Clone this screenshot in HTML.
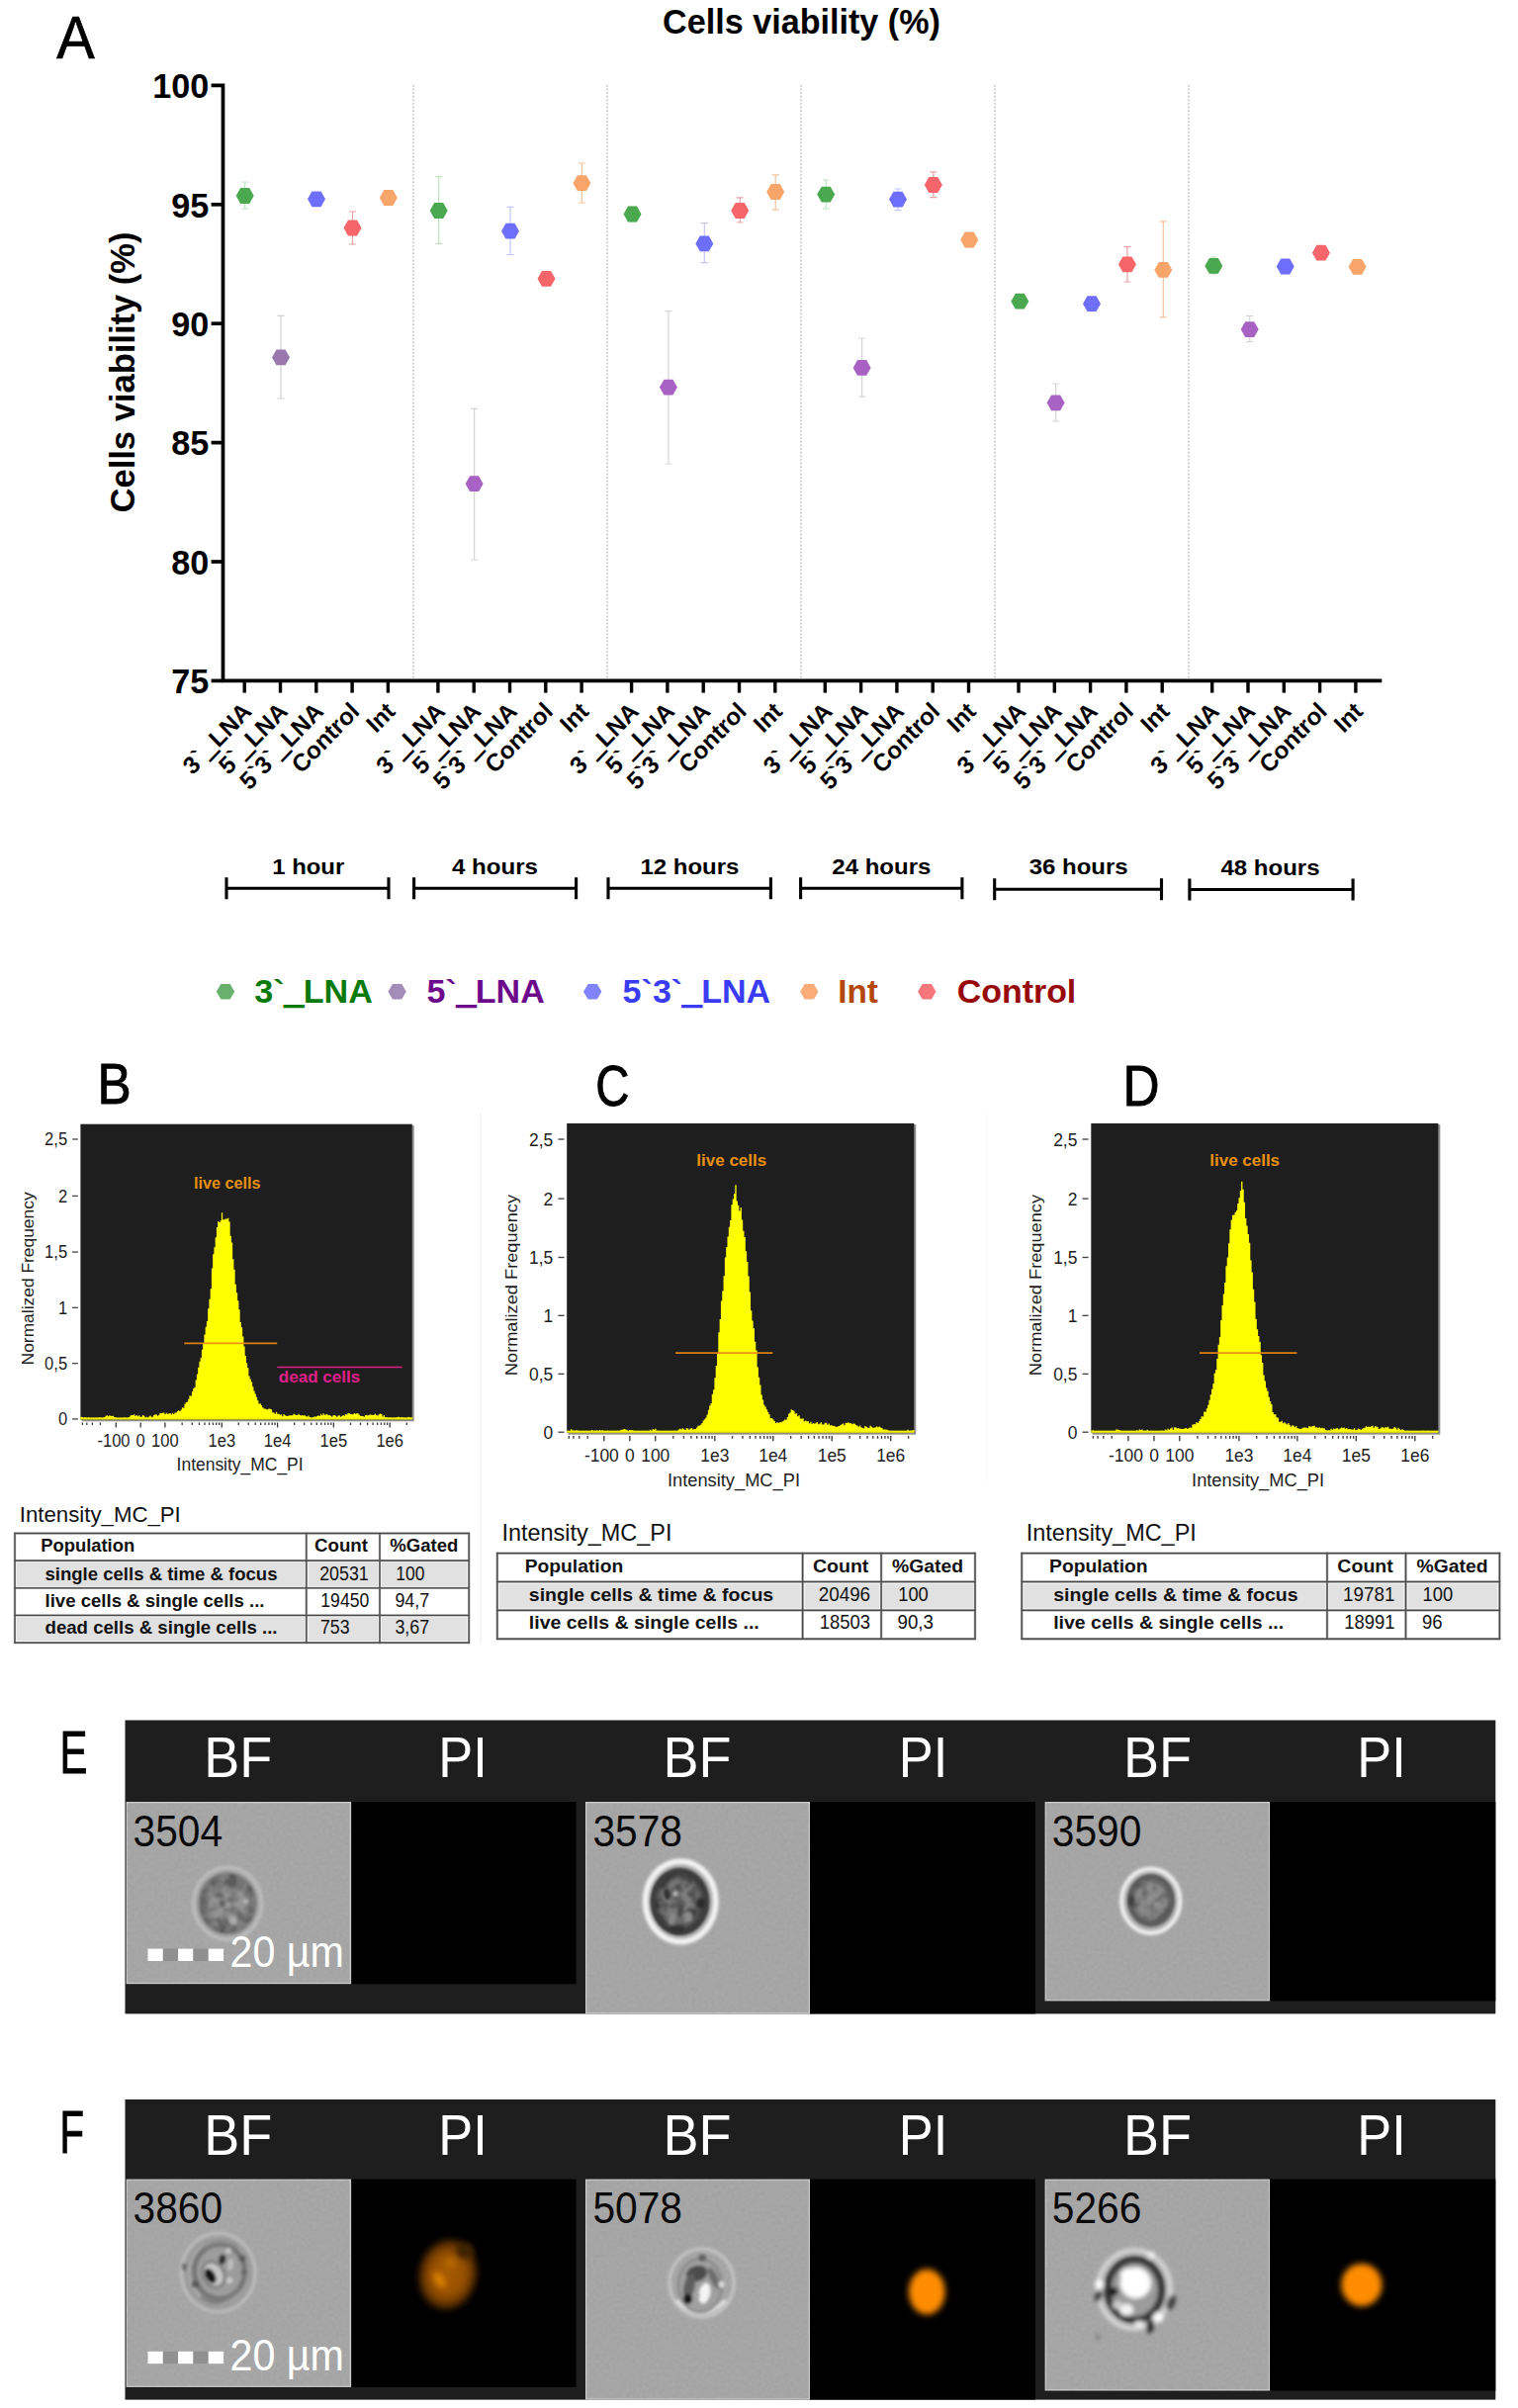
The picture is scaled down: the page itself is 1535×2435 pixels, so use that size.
<!DOCTYPE html>
<html lang="en">
<head>
<meta charset="utf-8">
<title>Cells viability (%)</title>
<style>
html,body{margin:0;padding:0;background:#fff;}
body{width:1535px;height:2435px;overflow:hidden;}
svg{display:block;}
text{font-family:"Liberation Sans",Arial,Helvetica,sans-serif;}
.b{font-weight:bold;}
.r{font-weight:normal;}
</style>
</head>
<body>
<svg width="1535" height="2435" viewBox="0 0 1535 2435">
<defs>
<filter id="grain" color-interpolation-filters="sRGB" x="0" y="0" width="100%" height="100%"><feTurbulence type="fractalNoise" baseFrequency="0.3" numOctaves="2" seed="4" result="n"/><feColorMatrix in="n" type="matrix" values="0 0 0 0 0.5  0 0 0 0 0.5  0 0 0 0 0.5  0.14 0.14 0.14 0 -0.15" result="g"/><feComposite in="g" in2="SourceGraphic" operator="over"/></filter>
<filter id="mot" color-interpolation-filters="sRGB" x="0" y="0" width="100%" height="100%"><feTurbulence type="fractalNoise" baseFrequency="0.1" numOctaves="2" seed="11" result="n"/><feColorMatrix in="n" type="matrix" values="0 0 0 0 0.12  0 0 0 0 0.12  0 0 0 0 0.12  1.9 1.9 0 0 -1.55" result="g"/><feComposite in="g" in2="SourceGraphic" operator="in"/><feGaussianBlur stdDeviation="0.9"/></filter>
<filter id="motl" color-interpolation-filters="sRGB" x="0" y="0" width="100%" height="100%"><feTurbulence type="fractalNoise" baseFrequency="0.12" numOctaves="2" seed="29" result="n"/><feColorMatrix in="n" type="matrix" values="0 0 0 0 0.85  0 0 0 0 0.85  0 0 0 0 0.85  0 1.9 1.9 0 -1.6" result="g"/><feComposite in="g" in2="SourceGraphic" operator="in"/><feGaussianBlur stdDeviation="0.9"/></filter>
<radialGradient id="ge1"><stop offset="0" stop-color="#9b9b9b"/><stop offset="0.55" stop-color="#929292"/><stop offset="0.86" stop-color="#7a7a7a"/><stop offset="1" stop-color="#818181"/></radialGradient>
<radialGradient id="ge2"><stop offset="0" stop-color="#848484"/><stop offset="0.6" stop-color="#787878"/><stop offset="0.84" stop-color="#3e3e3e"/><stop offset="1" stop-color="#363636"/></radialGradient>
<radialGradient id="ge3"><stop offset="0" stop-color="#909090"/><stop offset="0.62" stop-color="#888888"/><stop offset="0.88" stop-color="#585858"/><stop offset="1" stop-color="#555555"/></radialGradient>
<radialGradient id="pi1"><stop offset="0" stop-color="#a85c00"/><stop offset="0.6" stop-color="#964f00"/><stop offset="0.85" stop-color="#5c3000"/><stop offset="1" stop-color="#1a0c00"/></radialGradient>
<filter id="b14" x="-40%" y="-40%" width="180%" height="180%"><feGaussianBlur stdDeviation="1.4"/></filter>
<filter id="b15" x="-40%" y="-40%" width="180%" height="180%"><feGaussianBlur stdDeviation="1.5"/></filter>
<filter id="b17" x="-40%" y="-40%" width="180%" height="180%"><feGaussianBlur stdDeviation="1.7"/></filter>
<filter id="b19" x="-40%" y="-40%" width="180%" height="180%"><feGaussianBlur stdDeviation="1.9"/></filter>
<filter id="b30" x="-40%" y="-40%" width="180%" height="180%"><feGaussianBlur stdDeviation="3"/></filter>
<filter id="b32" x="-40%" y="-40%" width="180%" height="180%"><feGaussianBlur stdDeviation="3.2"/></filter>
<filter id="b36" x="-40%" y="-40%" width="180%" height="180%"><feGaussianBlur stdDeviation="3.6"/></filter>
</defs>
<rect x="0" y="0" width="1535" height="2435" fill="#ffffff"/>
<g id="panelA">
<text transform="translate(57.2,58.6) scale(0.93,1)" font-size="62" class="r" stroke="#000" stroke-width="0.7">A</text>
<text transform="translate(810.5,33.6) scale(1,1.04)" font-size="34.2" class="b" text-anchor="middle" textLength="281" lengthAdjust="spacingAndGlyphs">Cells viability (%)</text>
<text transform="translate(135.8,376.5) scale(1.04,1) rotate(-90)" font-size="34.2" class="b" text-anchor="middle" textLength="284" lengthAdjust="spacingAndGlyphs">Cells viability (%)</text>
<line x1="418" y1="86" x2="418" y2="687" stroke="#b4b4b4" stroke-width="1.2" stroke-dasharray="1.8 1.8"/>
<line x1="614" y1="86" x2="614" y2="687" stroke="#b4b4b4" stroke-width="1.2" stroke-dasharray="1.8 1.8"/>
<line x1="810" y1="86" x2="810" y2="687" stroke="#b4b4b4" stroke-width="1.2" stroke-dasharray="1.8 1.8"/>
<line x1="1006" y1="86" x2="1006" y2="687" stroke="#b4b4b4" stroke-width="1.2" stroke-dasharray="1.8 1.8"/>
<line x1="1202" y1="86" x2="1202" y2="687" stroke="#b4b4b4" stroke-width="1.2" stroke-dasharray="1.8 1.8"/>
<path d="M213.6 86.4 H225.5 V688.4 H1397.3" fill="none" stroke="#000" stroke-width="3.7"/>
<path d="M213.6 688.4 H225.5" fill="none" stroke="#000" stroke-width="3.7"/>
<line x1="213.6" x2="225.5" y1="206.8" y2="206.8" stroke="#000" stroke-width="3.7"/>
<line x1="213.6" x2="225.5" y1="327.2" y2="327.2" stroke="#000" stroke-width="3.7"/>
<line x1="213.6" x2="225.5" y1="447.6" y2="447.6" stroke="#000" stroke-width="3.7"/>
<line x1="213.6" x2="225.5" y1="568" y2="568" stroke="#000" stroke-width="3.7"/>
<text transform="translate(211.3,99.1) scale(1.01,1.04)" font-size="33.9" class="b" text-anchor="end">100</text>
<text transform="translate(211.3,219.5) scale(1.01,1.04)" font-size="33.9" class="b" text-anchor="end">95</text>
<text transform="translate(211.3,339.9) scale(1.01,1.04)" font-size="33.9" class="b" text-anchor="end">90</text>
<text transform="translate(211.3,460.3) scale(1.01,1.04)" font-size="33.9" class="b" text-anchor="end">85</text>
<text transform="translate(211.3,580.7) scale(1.01,1.04)" font-size="33.9" class="b" text-anchor="end">80</text>
<text transform="translate(211.3,701.1) scale(1.01,1.04)" font-size="33.9" class="b" text-anchor="end">75</text>
<line x1="247.2" x2="247.2" y1="688" y2="700.6" stroke="#000" stroke-width="3.4"/>
<text transform="translate(255.8,720.8) scale(1,1.04) rotate(-45)" font-size="23.9" class="b" text-anchor="end">3`<tspan dx="1.6" stroke="#000" stroke-width="1.5">_</tspan><tspan dx="1.2">LNA</tspan></text>
<line x1="283.5" x2="283.5" y1="688" y2="700.6" stroke="#000" stroke-width="3.4"/>
<text transform="translate(292.1,720.8) scale(1,1.04) rotate(-45)" font-size="23.9" class="b" text-anchor="end">5`<tspan dx="1.6" stroke="#000" stroke-width="1.5">_</tspan><tspan dx="1.2">LNA</tspan></text>
<line x1="319.8" x2="319.8" y1="688" y2="700.6" stroke="#000" stroke-width="3.4"/>
<text transform="translate(328.4,720.8) scale(1,1.04) rotate(-45)" font-size="23.9" class="b" text-anchor="end">5`3`<tspan dx="1.6" stroke="#000" stroke-width="1.5">_</tspan><tspan dx="1.2">LNA</tspan></text>
<line x1="356.1" x2="356.1" y1="688" y2="700.6" stroke="#000" stroke-width="3.4"/>
<text transform="translate(364.7,720.8) scale(1,1.04) rotate(-45)" font-size="23.9" class="b" text-anchor="end">Control</text>
<line x1="392.4" x2="392.4" y1="688" y2="700.6" stroke="#000" stroke-width="3.4"/>
<text transform="translate(401,720.8) scale(1,1.04) rotate(-45)" font-size="23.9" class="b" text-anchor="end">Int</text>
<line x1="442.9" x2="442.9" y1="688" y2="700.6" stroke="#000" stroke-width="3.4"/>
<text transform="translate(451.5,720.8) scale(1,1.04) rotate(-45)" font-size="23.9" class="b" text-anchor="end">3`<tspan dx="1.6" stroke="#000" stroke-width="1.5">_</tspan><tspan dx="1.2">LNA</tspan></text>
<line x1="479.2" x2="479.2" y1="688" y2="700.6" stroke="#000" stroke-width="3.4"/>
<text transform="translate(487.8,720.8) scale(1,1.04) rotate(-45)" font-size="23.9" class="b" text-anchor="end">5`<tspan dx="1.6" stroke="#000" stroke-width="1.5">_</tspan><tspan dx="1.2">LNA</tspan></text>
<line x1="515.5" x2="515.5" y1="688" y2="700.6" stroke="#000" stroke-width="3.4"/>
<text transform="translate(524.1,720.8) scale(1,1.04) rotate(-45)" font-size="23.9" class="b" text-anchor="end">5`3`<tspan dx="1.6" stroke="#000" stroke-width="1.5">_</tspan><tspan dx="1.2">LNA</tspan></text>
<line x1="551.8" x2="551.8" y1="688" y2="700.6" stroke="#000" stroke-width="3.4"/>
<text transform="translate(560.4,720.8) scale(1,1.04) rotate(-45)" font-size="23.9" class="b" text-anchor="end">Control</text>
<line x1="588.1" x2="588.1" y1="688" y2="700.6" stroke="#000" stroke-width="3.4"/>
<text transform="translate(596.7,720.8) scale(1,1.04) rotate(-45)" font-size="23.9" class="b" text-anchor="end">Int</text>
<line x1="638.6" x2="638.6" y1="688" y2="700.6" stroke="#000" stroke-width="3.4"/>
<text transform="translate(647.2,720.8) scale(1,1.04) rotate(-45)" font-size="23.9" class="b" text-anchor="end">3`<tspan dx="1.6" stroke="#000" stroke-width="1.5">_</tspan><tspan dx="1.2">LNA</tspan></text>
<line x1="674.9" x2="674.9" y1="688" y2="700.6" stroke="#000" stroke-width="3.4"/>
<text transform="translate(683.5,720.8) scale(1,1.04) rotate(-45)" font-size="23.9" class="b" text-anchor="end">5`<tspan dx="1.6" stroke="#000" stroke-width="1.5">_</tspan><tspan dx="1.2">LNA</tspan></text>
<line x1="711.2" x2="711.2" y1="688" y2="700.6" stroke="#000" stroke-width="3.4"/>
<text transform="translate(719.8,720.8) scale(1,1.04) rotate(-45)" font-size="23.9" class="b" text-anchor="end">5`3`<tspan dx="1.6" stroke="#000" stroke-width="1.5">_</tspan><tspan dx="1.2">LNA</tspan></text>
<line x1="747.5" x2="747.5" y1="688" y2="700.6" stroke="#000" stroke-width="3.4"/>
<text transform="translate(756.1,720.8) scale(1,1.04) rotate(-45)" font-size="23.9" class="b" text-anchor="end">Control</text>
<line x1="783.8" x2="783.8" y1="688" y2="700.6" stroke="#000" stroke-width="3.4"/>
<text transform="translate(792.4,720.8) scale(1,1.04) rotate(-45)" font-size="23.9" class="b" text-anchor="end">Int</text>
<line x1="834.3" x2="834.3" y1="688" y2="700.6" stroke="#000" stroke-width="3.4"/>
<text transform="translate(842.9,720.8) scale(1,1.04) rotate(-45)" font-size="23.9" class="b" text-anchor="end">3`<tspan dx="1.6" stroke="#000" stroke-width="1.5">_</tspan><tspan dx="1.2">LNA</tspan></text>
<line x1="870.6" x2="870.6" y1="688" y2="700.6" stroke="#000" stroke-width="3.4"/>
<text transform="translate(879.2,720.8) scale(1,1.04) rotate(-45)" font-size="23.9" class="b" text-anchor="end">5`<tspan dx="1.6" stroke="#000" stroke-width="1.5">_</tspan><tspan dx="1.2">LNA</tspan></text>
<line x1="906.9" x2="906.9" y1="688" y2="700.6" stroke="#000" stroke-width="3.4"/>
<text transform="translate(915.5,720.8) scale(1,1.04) rotate(-45)" font-size="23.9" class="b" text-anchor="end">5`3`<tspan dx="1.6" stroke="#000" stroke-width="1.5">_</tspan><tspan dx="1.2">LNA</tspan></text>
<line x1="943.2" x2="943.2" y1="688" y2="700.6" stroke="#000" stroke-width="3.4"/>
<text transform="translate(951.8,720.8) scale(1,1.04) rotate(-45)" font-size="23.9" class="b" text-anchor="end">Control</text>
<line x1="979.5" x2="979.5" y1="688" y2="700.6" stroke="#000" stroke-width="3.4"/>
<text transform="translate(988.1,720.8) scale(1,1.04) rotate(-45)" font-size="23.9" class="b" text-anchor="end">Int</text>
<line x1="1030" x2="1030" y1="688" y2="700.6" stroke="#000" stroke-width="3.4"/>
<text transform="translate(1038.6,720.8) scale(1,1.04) rotate(-45)" font-size="23.9" class="b" text-anchor="end">3`<tspan dx="1.6" stroke="#000" stroke-width="1.5">_</tspan><tspan dx="1.2">LNA</tspan></text>
<line x1="1066.3" x2="1066.3" y1="688" y2="700.6" stroke="#000" stroke-width="3.4"/>
<text transform="translate(1074.9,720.8) scale(1,1.04) rotate(-45)" font-size="23.9" class="b" text-anchor="end">5`<tspan dx="1.6" stroke="#000" stroke-width="1.5">_</tspan><tspan dx="1.2">LNA</tspan></text>
<line x1="1102.6" x2="1102.6" y1="688" y2="700.6" stroke="#000" stroke-width="3.4"/>
<text transform="translate(1111.2,720.8) scale(1,1.04) rotate(-45)" font-size="23.9" class="b" text-anchor="end">5`3`<tspan dx="1.6" stroke="#000" stroke-width="1.5">_</tspan><tspan dx="1.2">LNA</tspan></text>
<line x1="1138.9" x2="1138.9" y1="688" y2="700.6" stroke="#000" stroke-width="3.4"/>
<text transform="translate(1147.5,720.8) scale(1,1.04) rotate(-45)" font-size="23.9" class="b" text-anchor="end">Control</text>
<line x1="1175.2" x2="1175.2" y1="688" y2="700.6" stroke="#000" stroke-width="3.4"/>
<text transform="translate(1183.8,720.8) scale(1,1.04) rotate(-45)" font-size="23.9" class="b" text-anchor="end">Int</text>
<line x1="1225.7" x2="1225.7" y1="688" y2="700.6" stroke="#000" stroke-width="3.4"/>
<text transform="translate(1234.3,720.8) scale(1,1.04) rotate(-45)" font-size="23.9" class="b" text-anchor="end">3`<tspan dx="1.6" stroke="#000" stroke-width="1.5">_</tspan><tspan dx="1.2">LNA</tspan></text>
<line x1="1262" x2="1262" y1="688" y2="700.6" stroke="#000" stroke-width="3.4"/>
<text transform="translate(1270.6,720.8) scale(1,1.04) rotate(-45)" font-size="23.9" class="b" text-anchor="end">5`<tspan dx="1.6" stroke="#000" stroke-width="1.5">_</tspan><tspan dx="1.2">LNA</tspan></text>
<line x1="1298.3" x2="1298.3" y1="688" y2="700.6" stroke="#000" stroke-width="3.4"/>
<text transform="translate(1306.9,720.8) scale(1,1.04) rotate(-45)" font-size="23.9" class="b" text-anchor="end">5`3`<tspan dx="1.6" stroke="#000" stroke-width="1.5">_</tspan><tspan dx="1.2">LNA</tspan></text>
<line x1="1334.6" x2="1334.6" y1="688" y2="700.6" stroke="#000" stroke-width="3.4"/>
<text transform="translate(1343.2,720.8) scale(1,1.04) rotate(-45)" font-size="23.9" class="b" text-anchor="end">Control</text>
<line x1="1370.9" x2="1370.9" y1="688" y2="700.6" stroke="#000" stroke-width="3.4"/>
<text transform="translate(1379.5,720.8) scale(1,1.04) rotate(-45)" font-size="23.9" class="b" text-anchor="end">Int</text>
<path d="M247.7 184 V211 M244.2 184 h7 M244.2 211 h7" stroke="#bfe3c0" stroke-width="1.2" fill="none"/>
<polygon points="238.7,198 243.2,190.1 252.2,190.1 256.7,198 252.2,205.9 243.2,205.9" fill="#4aa94f"/>
<path d="M284 319.4 V403 M280.5 319.4 h7 M280.5 403 h7" stroke="#d2d0d4" stroke-width="1.2" fill="none"/>
<polygon points="275,361.4 279.5,353.5 288.5,353.5 293,361.4 288.5,369.3 279.5,369.3" fill="#9a78ad"/>
<path d="M320 195 V208 M316.5 195 h7 M316.5 208 h7" stroke="#c5c6f5" stroke-width="1.2" fill="none"/>
<polygon points="311,201.3 315.5,193.4 324.5,193.4 329,201.3 324.5,209.2 315.5,209.2" fill="#6d6ef9"/>
<path d="M356.5 214 V247 M353 214 h7 M353 247 h7" stroke="#e9a3a5" stroke-width="1.2" fill="none"/>
<polygon points="347.5,230.5 352,222.6 361,222.6 365.5,230.5 361,238.4 352,238.4" fill="#f5656a"/>
<path d="M392.8 194 V206 M389.3 194 h7 M389.3 206 h7" stroke="#f3c39c" stroke-width="1.2" fill="none"/>
<polygon points="383.8,200 388.3,192.1 397.3,192.1 401.8,200 397.3,207.9 388.3,207.9" fill="#f8a56a"/>
<path d="M443.7 178.6 V246.4 M440.2 178.6 h7 M440.2 246.4 h7" stroke="#bfe3c0" stroke-width="1.2" fill="none"/>
<polygon points="434.7,213 439.2,205.1 448.2,205.1 452.7,213 448.2,220.9 439.2,220.9" fill="#4aa94f"/>
<path d="M479.6 413.3 V566 M476.1 413.3 h7 M476.1 566 h7" stroke="#d6d3d8" stroke-width="1.2" fill="none"/>
<polygon points="470.6,489.2 475.1,481.3 484.1,481.3 488.6,489.2 484.1,497.1 475.1,497.1" fill="#a862c3"/>
<path d="M516 209.4 V257.5 M512.5 209.4 h7 M512.5 257.5 h7" stroke="#c5c6f5" stroke-width="1.2" fill="none"/>
<polygon points="507,233.7 511.5,225.8 520.5,225.8 525,233.7 520.5,241.6 511.5,241.6" fill="#6d6ef9"/>
<path d="M552.5 276 V288 M549 276 h7 M549 288 h7" stroke="#e9a3a5" stroke-width="1.2" fill="none"/>
<polygon points="543.5,281.8 548,273.9 557,273.9 561.5,281.8 557,289.7 548,289.7" fill="#f5656a"/>
<path d="M588.4 165 V205 M584.9 165 h7 M584.9 205 h7" stroke="#f3c39c" stroke-width="1.2" fill="none"/>
<polygon points="579.4,185.2 583.9,177.3 592.9,177.3 597.4,185.2 592.9,193.1 583.9,193.1" fill="#f8a56a"/>
<path d="M639.5 209 V224 M636 209 h7 M636 224 h7" stroke="#bfe3c0" stroke-width="1.2" fill="none"/>
<polygon points="630.5,216.5 635,208.6 644,208.6 648.5,216.5 644,224.4 635,224.4" fill="#4aa94f"/>
<path d="M675.9 314.7 V469 M672.4 314.7 h7 M672.4 469 h7" stroke="#d6d3d8" stroke-width="1.2" fill="none"/>
<polygon points="666.9,391.6 671.4,383.7 680.4,383.7 684.9,391.6 680.4,399.5 671.4,399.5" fill="#a862c3"/>
<path d="M712.3 225.6 V265.6 M708.8 225.6 h7 M708.8 265.6 h7" stroke="#c5c6f5" stroke-width="1.2" fill="none"/>
<polygon points="703.3,246.4 707.8,238.5 716.8,238.5 721.3,246.4 716.8,254.3 707.8,254.3" fill="#6d6ef9"/>
<path d="M748.2 199.8 V225 M744.7 199.8 h7 M744.7 225 h7" stroke="#e9a3a5" stroke-width="1.2" fill="none"/>
<polygon points="739.2,213 743.7,205.1 752.7,205.1 757.2,213 752.7,220.9 743.7,220.9" fill="#f5656a"/>
<path d="M784.2 176.9 V212.2 M780.7 176.9 h7 M780.7 212.2 h7" stroke="#f3c39c" stroke-width="1.2" fill="none"/>
<polygon points="775.2,194 779.7,186.1 788.7,186.1 793.2,194 788.7,201.9 779.7,201.9" fill="#f8a56a"/>
<path d="M835.2 182 V211 M831.7 182 h7 M831.7 211 h7" stroke="#bfe3c0" stroke-width="1.2" fill="none"/>
<polygon points="826.2,196.6 830.7,188.7 839.7,188.7 844.2,196.6 839.7,204.5 830.7,204.5" fill="#4aa94f"/>
<path d="M871.6 342 V401.2 M868.1 342 h7 M868.1 401.2 h7" stroke="#d6d3d8" stroke-width="1.2" fill="none"/>
<polygon points="862.6,371.9 867.1,364 876.1,364 880.6,371.9 876.1,379.8 867.1,379.8" fill="#a862c3"/>
<path d="M908 191 V212.7 M904.5 191 h7 M904.5 212.7 h7" stroke="#c5c6f5" stroke-width="1.2" fill="none"/>
<polygon points="899,201.6 903.5,193.7 912.5,193.7 917,201.6 912.5,209.5 903.5,209.5" fill="#6d6ef9"/>
<path d="M943.8 173.8 V199.6 M940.3 173.8 h7 M940.3 199.6 h7" stroke="#e9a3a5" stroke-width="1.2" fill="none"/>
<polygon points="934.8,187 939.3,179.1 948.3,179.1 952.8,187 948.3,194.9 939.3,194.9" fill="#f5656a"/>
<path d="M980.2 237 V248 M976.7 237 h7 M976.7 248 h7" stroke="#f3c39c" stroke-width="1.2" fill="none"/>
<polygon points="971.2,242.5 975.7,234.6 984.7,234.6 989.2,242.5 984.7,250.4 975.7,250.4" fill="#f8a56a"/>
<path d="M1031.3 299 V310 M1027.8 299 h7 M1027.8 310 h7" stroke="#bfe3c0" stroke-width="1.2" fill="none"/>
<polygon points="1022.3,304.7 1026.8,296.8 1035.8,296.8 1040.3,304.7 1035.8,312.6 1026.8,312.6" fill="#4aa94f"/>
<path d="M1067.6 388 V426 M1064.1 388 h7 M1064.1 426 h7" stroke="#d6d3d8" stroke-width="1.2" fill="none"/>
<polygon points="1058.6,407.3 1063.1,399.4 1072.1,399.4 1076.6,407.3 1072.1,415.2 1063.1,415.2" fill="#a862c3"/>
<path d="M1104 301 V313 M1100.5 301 h7 M1100.5 313 h7" stroke="#c5c6f5" stroke-width="1.2" fill="none"/>
<polygon points="1095,307.2 1099.5,299.3 1108.5,299.3 1113,307.2 1108.5,315.1 1099.5,315.1" fill="#6d6ef9"/>
<path d="M1139.9 249.6 V285 M1136.4 249.6 h7 M1136.4 285 h7" stroke="#e9a3a5" stroke-width="1.2" fill="none"/>
<polygon points="1130.9,267.3 1135.4,259.4 1144.4,259.4 1148.9,267.3 1144.4,275.2 1135.4,275.2" fill="#f5656a"/>
<path d="M1176.3 223.8 V320.9 M1172.8 223.8 h7 M1172.8 320.9 h7" stroke="#f3c39c" stroke-width="1.2" fill="none"/>
<polygon points="1167.3,272.9 1171.8,265 1180.8,265 1185.3,272.9 1180.8,280.8 1171.8,280.8" fill="#f8a56a"/>
<path d="M1227.3 260 V277 M1223.8 260 h7 M1223.8 277 h7" stroke="#bfe3c0" stroke-width="1.2" fill="none"/>
<polygon points="1218.3,268.9 1222.8,261 1231.8,261 1236.3,268.9 1231.8,276.8 1222.8,276.8" fill="#4aa94f"/>
<path d="M1263.7 319.4 V345.6 M1260.2 319.4 h7 M1260.2 345.6 h7" stroke="#d6d3d8" stroke-width="1.2" fill="none"/>
<polygon points="1254.7,333.1 1259.2,325.2 1268.2,325.2 1272.7,333.1 1268.2,341 1259.2,341" fill="#a862c3"/>
<path d="M1299.7 264 V275 M1296.2 264 h7 M1296.2 275 h7" stroke="#c5c6f5" stroke-width="1.2" fill="none"/>
<polygon points="1290.7,269.5 1295.2,261.6 1304.2,261.6 1308.7,269.5 1304.2,277.4 1295.2,277.4" fill="#6d6ef9"/>
<path d="M1335.9 249 V262 M1332.4 249 h7 M1332.4 262 h7" stroke="#e9a3a5" stroke-width="1.2" fill="none"/>
<polygon points="1326.9,255.7 1331.4,247.8 1340.4,247.8 1344.9,255.7 1340.4,263.6 1331.4,263.6" fill="#f5656a"/>
<path d="M1372.6 264 V275 M1369.1 264 h7 M1369.1 275 h7" stroke="#f3c39c" stroke-width="1.2" fill="none"/>
<polygon points="1363.6,269.8 1368.1,261.9 1377.1,261.9 1381.6,269.8 1377.1,277.7 1368.1,277.7" fill="#f8a56a"/>
</g>
<g id="brackets" stroke="#000" stroke-width="3.1" fill="none">
<path d="M229 887.2 V909.2 M393 887.2 V909.2 M229 898.2 H393"/>
<path d="M418.6 887.2 V909.2 M582.6 887.2 V909.2 M418.6 898.2 H582.6"/>
<path d="M615 887.2 V909.2 M779.4 887.2 V909.2 M615 898.2 H779.4"/>
<path d="M809.6 887.2 V909.2 M972.9 887.2 V909.2 M809.6 898.2 H972.9"/>
<path d="M1005.7 888.3 V910.3 M1174.5 888.3 V910.3 M1005.7 899.3 H1174.5"/>
<path d="M1202.9 888.5 V910.5 M1368.1 888.5 V910.5 M1202.9 899.5 H1368.1"/>
</g>
<text transform="translate(311.7,884.3) scale(1,1.04)" font-size="21.4" class="b" text-anchor="middle" textLength="73" lengthAdjust="spacingAndGlyphs">1 hour</text>
<text transform="translate(500.4,884.3) scale(1,1.04)" font-size="21.4" class="b" text-anchor="middle" textLength="87" lengthAdjust="spacingAndGlyphs">4 hours</text>
<text transform="translate(697.4,884.3) scale(1,1.04)" font-size="21.4" class="b" text-anchor="middle" textLength="100" lengthAdjust="spacingAndGlyphs">12 hours</text>
<text transform="translate(891.3,883.6) scale(1,1.04)" font-size="21.4" class="b" text-anchor="middle" textLength="100" lengthAdjust="spacingAndGlyphs">24 hours</text>
<text transform="translate(1090.7,884.3) scale(1,1.04)" font-size="21.4" class="b" text-anchor="middle" textLength="100" lengthAdjust="spacingAndGlyphs">36 hours</text>
<text transform="translate(1284.5,885.3) scale(1,1.04)" font-size="21.4" class="b" text-anchor="middle" textLength="100" lengthAdjust="spacingAndGlyphs">48 hours</text>
<polygon points="218.8,1002.7 223.4,995 232.6,995 237.2,1002.7 232.6,1010.4 223.4,1010.4" fill="#6ab06d"/>
<text transform="translate(257.3,1014.3) scale(1,1.04)" font-size="31.2" class="b" fill="#0a7a0a" textLength="119.6" lengthAdjust="spacingAndGlyphs">3`<tspan stroke="#0a7a0a" stroke-width="1.8">_</tspan>LNA</text>
<polygon points="392.4,1002.7 397,995 406.2,995 410.8,1002.7 406.2,1010.4 397,1010.4" fill="#a48cb8"/>
<text transform="translate(431.6,1014.3) scale(1,1.04)" font-size="31.2" class="b" fill="#6d0a8c" textLength="119.2" lengthAdjust="spacingAndGlyphs">5`<tspan stroke="#6d0a8c" stroke-width="1.8">_</tspan>LNA</text>
<polygon points="590,1002.7 594.6,995 603.8,995 608.4,1002.7 603.8,1010.4 594.6,1010.4" fill="#8184fa"/>
<text transform="translate(629.6,1014.3) scale(1,1.04)" font-size="31.2" class="b" fill="#3a3cf5" textLength="149.6" lengthAdjust="spacingAndGlyphs">5`3`<tspan stroke="#3a3cf5" stroke-width="1.8">_</tspan>LNA</text>
<polygon points="809.1,1002.7 813.7,995 822.9,995 827.5,1002.7 822.9,1010.4 813.7,1010.4" fill="#f9ab78"/>
<text transform="translate(847.2,1014.3) scale(1,1.04)" font-size="31.2" class="b" fill="#b4470c" textLength="40.7" lengthAdjust="spacingAndGlyphs">Int</text>
<polygon points="928.1,1002.7 932.7,995 941.9,995 946.5,1002.7 941.9,1010.4 932.7,1010.4" fill="#f6777b"/>
<text transform="translate(967.7,1014.3) scale(1,1.04)" font-size="31.2" class="b" fill="#97090b" textLength="120.6" lengthAdjust="spacingAndGlyphs">Control</text>
<path d="M486 1126 V1662" stroke="#f1f1f1" stroke-width="1.4" fill="none"/><path d="M998 1126 V1500" stroke="#f8f8f8" stroke-width="1.2" fill="none"/>
<g id="panelB">
<text transform="translate(98.6,1116.2) scale(0.9,1)" font-size="57" class="r" stroke="#000" stroke-width="0.9">B</text>
<rect x="82.6" y="1137.9" width="336.1" height="299.4" fill="#8d8d8d"/>
<rect x="81.4" y="1136.7" width="335.3" height="298.8" fill="#1e1e1e"/>
<line x1="73" x2="78.8" y1="1152" y2="1152" stroke="#444" stroke-width="1.3"/>
<text transform="translate(68.1,1158.2) scale(0.94,1)" font-size="17.6" fill="#1d1d1d" text-anchor="end">2,5</text>
<line x1="73" x2="78.8" y1="1209.4" y2="1209.4" stroke="#444" stroke-width="1.3"/>
<text transform="translate(68.1,1215.6) scale(0.94,1)" font-size="17.6" fill="#1d1d1d" text-anchor="end">2</text>
<line x1="73" x2="78.8" y1="1266.1" y2="1266.1" stroke="#444" stroke-width="1.3"/>
<text transform="translate(68.1,1272.3) scale(0.94,1)" font-size="17.6" fill="#1d1d1d" text-anchor="end">1,5</text>
<line x1="73" x2="78.8" y1="1322.3" y2="1322.3" stroke="#444" stroke-width="1.3"/>
<text transform="translate(68.1,1328.5) scale(0.94,1)" font-size="17.6" fill="#1d1d1d" text-anchor="end">1</text>
<line x1="73" x2="78.8" y1="1378.7" y2="1378.7" stroke="#444" stroke-width="1.3"/>
<text transform="translate(68.1,1384.9) scale(0.94,1)" font-size="17.6" fill="#1d1d1d" text-anchor="end">0,5</text>
<line x1="73" x2="78.8" y1="1434.9" y2="1434.9" stroke="#444" stroke-width="1.3"/>
<text transform="translate(68.1,1441.1) scale(0.94,1)" font-size="17.6" fill="#1d1d1d" text-anchor="end">0</text>
<text transform="translate(33.8,1292.9) rotate(-90)" font-size="16.54" fill="#1d1d1d" text-anchor="middle" textLength="175" lengthAdjust="spacingAndGlyphs">Normalized Frequency</text>
<path d="M81.4 1434.7 L81.4 1432.83 H82.65 L82.65 1433.11 H83.9 L83.9 1434.1 H85.15 L85.15 1433.17 H86.4 L86.4 1433.51 H87.65 L87.65 1433.98 H88.9 L88.9 1433.29 H90.15 L90.15 1434.1 H91.4 L91.4 1434.1 H92.65 L92.65 1434.1 H93.9 L93.9 1433.85 H95.15 L95.15 1434.1 H96.4 L96.4 1433.77 H97.65 L97.65 1434.1 H98.9 L98.9 1434.1 H100.15 L100.15 1432.95 H101.4 L101.4 1434.1 H102.65 L102.65 1434.1 H103.9 L103.9 1433.43 H105.15 L105.15 1433.04 H106.4 L106.4 1431.69 H107.65 L107.65 1431.19 H108.9 L108.9 1432.37 H110.15 L110.15 1431.25 H111.4 L111.4 1431.67 H112.65 L112.65 1431.98 H113.9 L113.9 1431.7 H115.15 L115.15 1433.03 H116.4 L116.4 1433.25 H117.65 L117.65 1434.1 H118.9 L118.9 1433.92 H120.15 L120.15 1434.1 H121.4 L121.4 1434.1 H122.65 L122.65 1434.1 H123.9 L123.9 1433.88 H125.15 L125.15 1433.24 H126.4 L126.4 1434.1 H127.65 L127.65 1434.1 H128.9 L128.9 1433.63 H130.15 L130.15 1432.92 H131.4 L131.4 1431.6 H132.65 L132.65 1431.08 H133.9 L133.9 1430.97 H135.15 L135.15 1430.27 H136.4 L136.4 1431.9 H137.65 L137.65 1431.01 H138.9 L138.9 1432.21 H140.15 L140.15 1431.23 H141.4 L141.4 1432.87 H142.65 L142.65 1432.84 H143.9 L143.9 1430.99 H145.15 L145.15 1431.74 H146.4 L146.4 1433.66 H147.65 L147.65 1432.68 H148.9 L148.9 1433.97 H150.15 L150.15 1432.46 H151.4 L151.4 1431.49 H152.65 L152.65 1432.64 H153.9 L153.9 1432.7 H155.15 L155.15 1431.07 H156.4 L156.4 1430.22 H157.65 L157.65 1430.44 H158.9 L158.9 1431.66 H160.15 L160.15 1430.82 H161.4 L161.4 1428.96 H162.65 L162.65 1429.11 H163.9 L163.9 1428.66 H165.15 L165.15 1428.56 H166.4 L166.4 1430.34 H167.65 L167.65 1428.76 H168.9 L168.9 1429.76 H170.15 L170.15 1429.54 H171.4 L171.4 1428.94 H172.65 L172.65 1430.36 H173.9 L173.9 1428.81 H175.15 L175.15 1430.05 H176.4 L176.4 1428.48 H177.65 L177.65 1428.48 H178.9 L178.9 1427.06 H180.15 L180.15 1426.25 H181.4 L181.4 1427.1 H182.65 L182.65 1425.59 H183.9 L183.9 1423.14 H185.15 L185.15 1423.64 H186.4 L186.4 1419.71 H187.65 L187.65 1418.11 H188.9 L188.9 1417.41 H190.15 L190.15 1414.84 H191.4 L191.4 1411.34 H192.65 L192.65 1411.63 H193.9 L193.9 1407.05 H195.15 L195.15 1404.05 H196.4 L196.4 1402.65 H197.65 L197.65 1395.41 H198.9 L198.9 1389.43 H200.15 L200.15 1382.69 H201.4 L201.4 1376.85 H202.65 L202.65 1373.04 H203.9 L203.9 1364.75 H205.15 L205.15 1358.87 H206.4 L206.4 1349.61 H207.65 L207.65 1341.67 H208.9 L208.9 1335.91 H210.15 L210.15 1323.32 H211.4 L211.4 1313.86 H212.65 L212.65 1303.21 H213.9 L213.9 1282.42 H215.15 L215.15 1268.14 H216.4 L216.4 1261.32 H217.65 L217.65 1251.35 H218.9 L218.9 1241.01 H220.15 L220.15 1235.01 H221.4 L221.4 1236.11 H222.65 L222.65 1234.34 H223.9 L223.9 1226.33 H225.15 L225.15 1233.36 H226.4 L226.4 1233.36 H227.65 L227.65 1232.39 H228.9 L228.9 1232.51 H230.15 L230.15 1231.72 H231.4 L231.4 1235.61 H232.65 L232.65 1249.83 H233.9 L233.9 1256.59 H235.15 L235.15 1273.2 H236.4 L236.4 1283.79 H237.65 L237.65 1298.7 H238.9 L238.9 1307.19 H240.15 L240.15 1315.35 H241.4 L241.4 1324.36 H242.65 L242.65 1336.99 H243.9 L243.9 1342.35 H245.15 L245.15 1351.57 H246.4 L246.4 1361.49 H247.65 L247.65 1371.09 H248.9 L248.9 1378.35 H250.15 L250.15 1383.24 H251.4 L251.4 1391.5 H252.65 L252.65 1394.38 H253.9 L253.9 1397.52 H255.15 L255.15 1402.17 H256.4 L256.4 1406.52 H257.65 L257.65 1409.57 H258.9 L258.9 1412.82 H260.15 L260.15 1416.2 H261.4 L261.4 1419.48 H262.65 L262.65 1419.28 H263.9 L263.9 1420.93 H265.15 L265.15 1423.35 H266.4 L266.4 1424.51 H267.65 L267.65 1424.57 H268.9 L268.9 1425.2 H270.15 L270.15 1425.24 H271.4 L271.4 1424.46 H272.65 L272.65 1424.68 H273.9 L273.9 1425.22 H275.15 L275.15 1428.22 H276.4 L276.4 1428.41 H277.65 L277.65 1429.71 H278.9 L278.9 1427.73 H280.15 L280.15 1429.77 H281.4 L281.4 1429.82 H282.65 L282.65 1430.86 H283.9 L283.9 1430.15 H285.15 L285.15 1432.15 H286.4 L286.4 1429.98 H287.65 L287.65 1431.26 H288.9 L288.9 1431.75 H290.15 L290.15 1432.09 H291.4 L291.4 1431.54 H292.65 L292.65 1431.3 H293.9 L293.9 1431.28 H295.15 L295.15 1431.35 H296.4 L296.4 1429.73 H297.65 L297.65 1430.44 H298.9 L298.9 1430.93 H300.15 L300.15 1430.89 H301.4 L301.4 1429.87 H302.65 L302.65 1431.01 H303.9 L303.9 1431.48 H305.15 L305.15 1431.09 H306.4 L306.4 1431.59 H307.65 L307.65 1431.36 H308.9 L308.9 1432.22 H310.15 L310.15 1432.6 H311.4 L311.4 1431.53 H312.65 L312.65 1433.1 H313.9 L313.9 1434.06 H315.15 L315.15 1433.78 H316.4 L316.4 1433.22 H317.65 L317.65 1432.13 H318.9 L318.9 1432.69 H320.15 L320.15 1431.97 H321.4 L321.4 1431.28 H322.65 L322.65 1431.96 H323.9 L323.9 1429.8 H325.15 L325.15 1431.25 H326.4 L326.4 1429.33 H327.65 L327.65 1430.71 H328.9 L328.9 1430.46 H330.15 L330.15 1429.97 H331.4 L331.4 1431.34 H332.65 L332.65 1431.09 H333.9 L333.9 1431.67 H335.15 L335.15 1432.72 H336.4 L336.4 1431.33 H337.65 L337.65 1430.93 H338.9 L338.9 1431.76 H340.15 L340.15 1432.73 H341.4 L341.4 1431.47 H342.65 L342.65 1431.23 H343.9 L343.9 1432.84 H345.15 L345.15 1431.92 H346.4 L346.4 1431.01 H347.65 L347.65 1431.76 H348.9 L348.9 1429.95 H350.15 L350.15 1430.44 H351.4 L351.4 1428.94 H352.65 L352.65 1429.28 H353.9 L353.9 1430.06 H355.15 L355.15 1430.26 H356.4 L356.4 1430.18 H357.65 L357.65 1429.02 H358.9 L358.9 1429.69 H360.15 L360.15 1429.25 H361.4 L361.4 1429.18 H362.65 L362.65 1430.48 H363.9 L363.9 1431.7 H365.15 L365.15 1432.04 H366.4 L366.4 1431.94 H367.65 L367.65 1432.7 H368.9 L368.9 1431.07 H370.15 L370.15 1430.78 H371.4 L371.4 1431.39 H372.65 L372.65 1430.78 H373.9 L373.9 1430.42 H375.15 L375.15 1430.68 H376.4 L376.4 1430.98 H377.65 L377.65 1430.44 H378.9 L378.9 1429.83 H380.15 L380.15 1431.06 H381.4 L381.4 1431.41 H382.65 L382.65 1430.21 H383.9 L383.9 1429.59 H385.15 L385.15 1429.89 H386.4 L386.4 1432.45 H387.65 L387.65 1430.91 H388.9 L388.9 1433.1 H390.15 L390.15 1433.29 H391.4 L391.4 1433.15 H392.65 L392.65 1434.1 H393.9 L393.9 1433.24 H395.15 L395.15 1433.66 H396.4 L396.4 1434.1 H397.65 L397.65 1433.39 H398.9 L398.9 1434.1 H400.15 L400.15 1433.59 H401.4 L401.4 1433.12 H402.65 L402.65 1432.64 H403.9 L403.9 1433.81 H405.15 L405.15 1433.15 H406.4 L406.4 1433.43 H407.65 L407.65 1433.4 H408.9 L408.9 1433.76 H410.15 L410.15 1434.1 H411.4 L411.4 1433.72 H412.65 L412.65 1432.8 H413.9 L413.9 1433.78 H415.15 L415.15 1433.42 H416.4 L416.4 1433.39 H417.65 L416.7 1434.7 Z" fill="#ffff00"/>
<rect x="81.4" y="1433.4" width="335.3" height="2.1" fill="#f4f000"/>
<line x1="186.2" x2="280.2" y1="1358.3" y2="1358.3" stroke="#e88a10" stroke-width="1.7" opacity="0.92"/>
<text x="196" y="1202.3" font-size="16.32" class="b" fill="#e8900f" textLength="67.6" lengthAdjust="spacingAndGlyphs">live cells</text>
<line x1="280.2" x2="406.8" y1="1382.5" y2="1382.5" stroke="#dc1f86" stroke-width="1.6"/>
<text x="281.8" y="1398.3" font-size="16.32" class="b" fill="#e0208a" textLength="82.4" lengthAdjust="spacingAndGlyphs">dead cells</text>
<text transform="translate(115,1463.1) scale(0.94,1)" font-size="17.6" fill="#1d1d1d" text-anchor="middle">-100</text>
<text transform="translate(142.2,1463.1) scale(0.94,1)" font-size="17.6" fill="#1d1d1d" text-anchor="middle">0</text>
<text transform="translate(166.9,1463.1) scale(0.94,1)" font-size="17.6" fill="#1d1d1d" text-anchor="middle">100</text>
<text transform="translate(224.3,1463.1) scale(0.94,1)" font-size="17.6" fill="#1d1d1d" text-anchor="middle">1e3</text>
<text transform="translate(280.6,1463.1) scale(0.94,1)" font-size="17.6" fill="#1d1d1d" text-anchor="middle">1e4</text>
<text transform="translate(337.4,1463.1) scale(0.94,1)" font-size="17.6" fill="#1d1d1d" text-anchor="middle">1e5</text>
<text transform="translate(394.2,1463.1) scale(0.94,1)" font-size="17.6" fill="#1d1d1d" text-anchor="middle">1e6</text>
<path d="M117.3 1438.5 v5 M142.2 1438.5 v5 M166.9 1438.5 v5 M224.3 1438.5 v5 M280.6 1438.5 v5 M337.4 1438.5 v5 M394.2 1438.5 v5 M184.18 1438.5 v2.6 M194.29 1438.5 v2.6 M201.46 1438.5 v2.6 M207.02 1438.5 v2.6 M211.57 1438.5 v2.6 M215.41 1438.5 v2.6 M218.74 1438.5 v2.6 M221.67 1438.5 v2.6 M241.25 1438.5 v2.6 M251.16 1438.5 v2.6 M258.2 1438.5 v2.6 M263.65 1438.5 v2.6 M268.11 1438.5 v2.6 M271.88 1438.5 v2.6 M275.14 1438.5 v2.6 M278.02 1438.5 v2.6 M297.7 1438.5 v2.6 M307.7 1438.5 v2.6 M314.8 1438.5 v2.6 M320.3 1438.5 v2.6 M324.8 1438.5 v2.6 M328.6 1438.5 v2.6 M331.9 1438.5 v2.6 M334.8 1438.5 v2.6 M354.5 1438.5 v2.6 M364.5 1438.5 v2.6 M371.6 1438.5 v2.6 M377.1 1438.5 v2.6 M381.6 1438.5 v2.6 M385.4 1438.5 v2.6 M388.7 1438.5 v2.6 M391.6 1438.5 v2.6 M411.3 1438.5 v2.6 M83.4 1438.5 v2.6 M87.8 1438.5 v2.6 M93.4 1438.5 v2.6 M101.4 1438.5 v2.6" stroke="#3a3a3a" stroke-width="1.3" fill="none"/>
<text x="242.6" y="1487.1" font-size="17.6" fill="#1d1d1d" text-anchor="middle" textLength="128" lengthAdjust="spacingAndGlyphs">Intensity_MC_PI</text>
</g>
<g id="panelC">
<text transform="translate(602.2,1118.2) scale(0.83,1)" font-size="57" class="r" stroke="#000" stroke-width="0.9">C</text>
<rect x="574.4" y="1137.2" width="351.86" height="313.44" fill="#8d8d8d"/>
<rect x="573.2" y="1136" width="351.06" height="312.84" fill="#1e1e1e"/>
<line x1="564.41" x2="570.48" y1="1152.02" y2="1152.02" stroke="#444" stroke-width="1.36"/>
<text transform="translate(559.27,1158.5) scale(0.99,1)" font-size="17.6" fill="#1d1d1d" text-anchor="end">2,5</text>
<line x1="564.41" x2="570.48" y1="1212.12" y2="1212.12" stroke="#444" stroke-width="1.36"/>
<text transform="translate(559.27,1218.59) scale(0.99,1)" font-size="17.6" fill="#1d1d1d" text-anchor="end">2</text>
<line x1="564.41" x2="570.48" y1="1271.48" y2="1271.48" stroke="#444" stroke-width="1.36"/>
<text transform="translate(559.27,1277.96) scale(0.99,1)" font-size="17.6" fill="#1d1d1d" text-anchor="end">1,5</text>
<line x1="564.41" x2="570.48" y1="1330.32" y2="1330.32" stroke="#444" stroke-width="1.36"/>
<text transform="translate(559.27,1336.8) scale(0.99,1)" font-size="17.6" fill="#1d1d1d" text-anchor="end">1</text>
<line x1="564.41" x2="570.48" y1="1389.37" y2="1389.37" stroke="#444" stroke-width="1.36"/>
<text transform="translate(559.27,1395.85) scale(0.99,1)" font-size="17.6" fill="#1d1d1d" text-anchor="end">0,5</text>
<line x1="564.41" x2="570.48" y1="1448.22" y2="1448.22" stroke="#444" stroke-width="1.36"/>
<text transform="translate(559.27,1454.69) scale(0.99,1)" font-size="17.6" fill="#1d1d1d" text-anchor="end">0</text>
<text transform="translate(523.36,1299.54) rotate(-90)" font-size="16.54" fill="#1d1d1d" text-anchor="middle" textLength="183.22" lengthAdjust="spacingAndGlyphs">Normalized Frequency</text>
<path d="M573.2 1448.01 L573.2 1447.38 H574.51 L574.51 1447.38 H575.82 L575.82 1447.29 H577.13 L577.13 1445.3 H578.44 L578.44 1446.72 H579.74 L579.74 1446.51 H581.05 L581.05 1447.06 H582.36 L582.36 1446.36 H583.67 L583.67 1446.84 H584.98 L584.98 1447.38 H586.29 L586.29 1447.38 H587.6 L587.6 1447.38 H588.91 L588.91 1447.32 H590.21 L590.21 1447.38 H591.52 L591.52 1447.38 H592.83 L592.83 1447.38 H594.14 L594.14 1447.38 H595.45 L595.45 1447.38 H596.76 L596.76 1447.14 H598.07 L598.07 1446.05 H599.38 L599.38 1447.38 H600.68 L600.68 1446.8 H601.99 L601.99 1446.77 H603.3 L603.3 1446.55 H604.61 L604.61 1447.38 H605.92 L605.92 1445.93 H607.23 L607.23 1447.08 H608.54 L608.54 1446.32 H609.85 L609.85 1447.12 H611.15 L611.15 1447.38 H612.46 L612.46 1447.11 H613.77 L613.77 1446.83 H615.08 L615.08 1447.38 H616.39 L616.39 1447.38 H617.7 L617.7 1447.38 H619.01 L619.01 1447.38 H620.32 L620.32 1447.38 H621.62 L621.62 1447.38 H622.93 L622.93 1447.17 H624.24 L624.24 1447.24 H625.55 L625.55 1447.38 H626.86 L626.86 1446.26 H628.17 L628.17 1445.74 H629.48 L629.48 1445.44 H630.79 L630.79 1445.09 H632.09 L632.09 1445.58 H633.4 L633.4 1446.31 H634.71 L634.71 1447.01 H636.02 L636.02 1445.93 H637.33 L637.33 1446.27 H638.64 L638.64 1446.35 H639.95 L639.95 1446.71 H641.25 L641.25 1447.38 H642.56 L642.56 1447.38 H643.87 L643.87 1447.38 H645.18 L645.18 1447.27 H646.49 L646.49 1447.38 H647.8 L647.8 1447.38 H649.11 L649.11 1447.38 H650.42 L650.42 1447.38 H651.73 L651.73 1447.38 H653.03 L653.03 1447.38 H654.34 L654.34 1447.38 H655.65 L655.65 1447.38 H656.96 L656.96 1445.74 H658.27 L658.27 1447.38 H659.58 L659.58 1445.02 H660.89 L660.89 1445.83 H662.2 L662.2 1444.83 H663.5 L663.5 1446.91 H664.81 L664.81 1446.78 H666.12 L666.12 1447.38 H667.43 L667.43 1447.38 H668.74 L668.74 1447.38 H670.05 L670.05 1447.38 H671.36 L671.36 1447.38 H672.67 L672.67 1447.38 H673.97 L673.97 1447.38 H675.28 L675.28 1447.38 H676.59 L676.59 1447.38 H677.9 L677.9 1447.38 H679.21 L679.21 1446.91 H680.52 L680.52 1447.38 H681.83 L681.83 1446.65 H683.13 L683.13 1447.38 H684.44 L684.44 1447.38 H685.75 L685.75 1445.38 H687.06 L687.06 1444.72 H688.37 L688.37 1445.51 H689.68 L689.68 1444.37 H690.99 L690.99 1445.21 H692.3 L692.3 1445.88 H693.61 L693.61 1444.25 H694.91 L694.91 1444.55 H696.22 L696.22 1445.71 H697.53 L697.53 1444.46 H698.84 L698.84 1444.12 H700.15 L700.15 1445.47 H701.46 L701.46 1445.12 H702.77 L702.77 1445.07 H704.08 L704.08 1443.59 H705.38 L705.38 1441.82 H706.69 L706.69 1441.48 H708 L708 1440.67 H709.31 L709.31 1438.88 H710.62 L710.62 1436.43 H711.93 L711.93 1435.25 H713.24 L713.24 1433.62 H714.55 L714.55 1430.5 H715.85 L715.85 1425.69 H717.16 L717.16 1421.59 H718.47 L718.47 1418.95 H719.78 L719.78 1409.87 H721.09 L721.09 1405.24 H722.4 L722.4 1393.13 H723.71 L723.71 1381 H725.02 L725.02 1369.01 H726.32 L726.32 1347.27 H727.63 L727.63 1333.91 H728.94 L728.94 1315.4 H730.25 L730.25 1305.44 H731.56 L731.56 1290.26 H732.87 L732.87 1271.55 H734.18 L734.18 1261.06 H735.49 L735.49 1250.5 H736.79 L736.79 1240.76 H738.1 L738.1 1234.01 H739.41 L739.41 1218.28 H740.72 L740.72 1212.4 H742.03 L742.03 1207.03 H743.34 L743.34 1198.32 H744.65 L744.65 1214.62 H745.96 L745.96 1218.71 H747.26 L747.26 1224.45 H748.57 L748.57 1221.07 H749.88 L749.88 1233.52 H751.19 L751.19 1244.75 H752.5 L752.5 1251.1 H753.81 L753.81 1265.34 H755.12 L755.12 1275.9 H756.43 L756.43 1290.51 H757.73 L757.73 1306.46 H759.04 L759.04 1325.24 H760.35 L760.35 1335.39 H761.66 L761.66 1343.26 H762.97 L762.97 1356.69 H764.28 L764.28 1365.62 H765.59 L765.59 1382.45 H766.89 L766.89 1392.85 H768.2 L768.2 1400.47 H769.51 L769.51 1410.57 H770.82 L770.82 1415.4 H772.13 L772.13 1420.38 H773.44 L773.44 1422.55 H774.75 L774.75 1425.14 H776.06 L776.06 1427.82 H777.37 L777.37 1430.36 H778.67 L778.67 1434.35 H779.98 L779.98 1433.9 H781.29 L781.29 1435.45 H782.6 L782.6 1437 H783.91 L783.91 1438.96 H785.22 L785.22 1438.32 H786.53 L786.53 1438.8 H787.84 L787.84 1438.17 H789.14 L789.14 1438.36 H790.45 L790.45 1437.5 H791.76 L791.76 1436.66 H793.07 L793.07 1435.5 H794.38 L794.38 1435.85 H795.69 L795.69 1433.1 H797 L797 1429.67 H798.31 L798.31 1428.49 H799.61 L799.61 1425.18 H800.92 L800.92 1425.98 H802.23 L802.23 1426.87 H803.54 L803.54 1429.51 H804.85 L804.85 1429.14 H806.16 L806.16 1432.13 H807.47 L807.47 1431.34 H808.78 L808.78 1434.58 H810.08 L810.08 1434.7 H811.39 L811.39 1434.16 H812.7 L812.7 1437.37 H814.01 L814.01 1436.47 H815.32 L815.32 1437.28 H816.63 L816.63 1437.18 H817.94 L817.94 1439.55 H819.25 L819.25 1437.77 H820.55 L820.55 1439.82 H821.86 L821.86 1439.01 H823.17 L823.17 1439.85 H824.48 L824.48 1438.74 H825.79 L825.79 1438.08 H827.1 L827.1 1440.34 H828.41 L828.41 1439.57 H829.72 L829.72 1438.24 H831.02 L831.02 1440.52 H832.33 L832.33 1440.5 H833.64 L833.64 1438.75 H834.95 L834.95 1438.65 H836.26 L836.26 1440.69 H837.57 L837.57 1439.62 H838.88 L838.88 1441.48 H840.18 L840.18 1441.04 H841.49 L841.49 1441.98 H842.8 L842.8 1441.86 H844.11 L844.11 1442.62 H845.42 L845.42 1442.9 H846.73 L846.73 1442.34 H848.04 L848.04 1442.1 H849.35 L849.35 1441.07 H850.65 L850.65 1440.15 H851.96 L851.96 1439.57 H853.27 L853.27 1441.16 H854.58 L854.58 1438.82 H855.89 L855.89 1438.88 H857.2 L857.2 1438.21 H858.51 L858.51 1439.15 H859.82 L859.82 1439.08 H861.12 L861.12 1440.23 H862.43 L862.43 1439.42 H863.74 L863.74 1439.66 H865.05 L865.05 1440.97 H866.36 L866.36 1441.82 H867.67 L867.67 1442.81 H868.98 L868.98 1441.49 H870.29 L870.29 1443.36 H871.6 L871.6 1443.91 H872.9 L872.9 1444.16 H874.21 L874.21 1442.04 H875.52 L875.52 1442.8 H876.83 L876.83 1443.85 H878.14 L878.14 1443.91 H879.45 L879.45 1441.69 H880.76 L880.76 1442.77 H882.07 L882.07 1443.71 H883.37 L883.37 1443.85 H884.68 L884.68 1443.3 H885.99 L885.99 1442.53 H887.3 L887.3 1443.18 H888.61 L888.61 1442.48 H889.92 L889.92 1443.44 H891.23 L891.23 1444.12 H892.54 L892.54 1445.55 H893.84 L893.84 1445.44 H895.15 L895.15 1445.56 H896.46 L896.46 1445.74 H897.77 L897.77 1446.55 H899.08 L899.08 1447.38 H900.39 L900.39 1447.38 H901.7 L901.7 1447.38 H903 L903 1447.38 H904.31 L904.31 1447.38 H905.62 L905.62 1447.38 H906.93 L906.93 1447.38 H908.24 L908.24 1447.38 H909.55 L909.55 1447.38 H910.86 L910.86 1447.38 H912.17 L912.17 1447.38 H913.48 L913.48 1447.38 H914.78 L914.78 1447.38 H916.09 L916.09 1446.92 H917.4 L917.4 1445.86 H918.71 L918.71 1447.38 H920.02 L920.02 1446.69 H921.33 L921.33 1446.81 H922.64 L922.64 1446.21 H923.95 L923.95 1446.44 H925.25 L924.26 1448.01 Z" fill="#ffff00"/>
<rect x="573.2" y="1446.64" width="351.06" height="2.2" fill="#f4f000"/>
<line x1="682.93" x2="781.34" y1="1368.02" y2="1368.02" stroke="#e88a10" stroke-width="1.78" opacity="0.92"/>
<text x="704.39" y="1179.24" font-size="16.32" class="b" fill="#e8900f" textLength="70.78" lengthAdjust="spacingAndGlyphs">live cells</text>
<text transform="translate(608.38,1477.74) scale(0.99,1)" font-size="17.6" fill="#1d1d1d" text-anchor="middle">-100</text>
<text transform="translate(636.86,1477.74) scale(0.99,1)" font-size="17.6" fill="#1d1d1d" text-anchor="middle">0</text>
<text transform="translate(662.72,1477.74) scale(0.99,1)" font-size="17.6" fill="#1d1d1d" text-anchor="middle">100</text>
<text transform="translate(722.82,1477.74) scale(0.99,1)" font-size="17.6" fill="#1d1d1d" text-anchor="middle">1e3</text>
<text transform="translate(781.76,1477.74) scale(0.99,1)" font-size="17.6" fill="#1d1d1d" text-anchor="middle">1e4</text>
<text transform="translate(841.23,1477.74) scale(0.99,1)" font-size="17.6" fill="#1d1d1d" text-anchor="middle">1e5</text>
<text transform="translate(900.7,1477.74) scale(0.99,1)" font-size="17.6" fill="#1d1d1d" text-anchor="middle">1e6</text>
<path d="M610.79 1451.98 v5.23 M636.86 1451.98 v5.23 M662.72 1451.98 v5.23 M722.82 1451.98 v5.23 M781.76 1451.98 v5.23 M841.23 1451.98 v5.23 M900.7 1451.98 v5.23 M680.81 1451.98 v2.72 M691.39 1451.98 v2.72 M698.9 1451.98 v2.72 M704.73 1451.98 v2.72 M709.48 1451.98 v2.72 M713.51 1451.98 v2.72 M716.99 1451.98 v2.72 M720.07 1451.98 v2.72 M740.56 1451.98 v2.72 M750.94 1451.98 v2.72 M758.31 1451.98 v2.72 M764.02 1451.98 v2.72 M768.69 1451.98 v2.72 M772.63 1451.98 v2.72 M776.05 1451.98 v2.72 M779.07 1451.98 v2.72 M799.66 1451.98 v2.72 M810.14 1451.98 v2.72 M817.57 1451.98 v2.72 M823.33 1451.98 v2.72 M828.04 1451.98 v2.72 M832.02 1451.98 v2.72 M835.47 1451.98 v2.72 M838.51 1451.98 v2.72 M859.13 1451.98 v2.72 M869.61 1451.98 v2.72 M877.04 1451.98 v2.72 M882.8 1451.98 v2.72 M887.51 1451.98 v2.72 M891.49 1451.98 v2.72 M894.94 1451.98 v2.72 M897.98 1451.98 v2.72 M918.6 1451.98 v2.72 M575.29 1451.98 v2.72 M579.9 1451.98 v2.72 M585.76 1451.98 v2.72 M594.14 1451.98 v2.72" stroke="#3a3a3a" stroke-width="1.36" fill="none"/>
<text x="741.98" y="1502.87" font-size="17.6" fill="#1d1d1d" text-anchor="middle" textLength="134.02" lengthAdjust="spacingAndGlyphs">Intensity_MC_PI</text>
</g>
<g id="panelD">
<text transform="translate(1135.5,1118.2) scale(0.9,1)" font-size="57" class="r" stroke="#000" stroke-width="0.9">D</text>
<rect x="1104.5" y="1137.2" width="351.86" height="313.44" fill="#8d8d8d"/>
<rect x="1103.3" y="1136" width="351.06" height="312.84" fill="#1e1e1e"/>
<line x1="1094.51" x2="1100.58" y1="1152.02" y2="1152.02" stroke="#444" stroke-width="1.36"/>
<text transform="translate(1089.37,1158.5) scale(0.99,1)" font-size="17.6" fill="#1d1d1d" text-anchor="end">2,5</text>
<line x1="1094.51" x2="1100.58" y1="1212.12" y2="1212.12" stroke="#444" stroke-width="1.36"/>
<text transform="translate(1089.37,1218.59) scale(0.99,1)" font-size="17.6" fill="#1d1d1d" text-anchor="end">2</text>
<line x1="1094.51" x2="1100.58" y1="1271.48" y2="1271.48" stroke="#444" stroke-width="1.36"/>
<text transform="translate(1089.37,1277.96) scale(0.99,1)" font-size="17.6" fill="#1d1d1d" text-anchor="end">1,5</text>
<line x1="1094.51" x2="1100.58" y1="1330.32" y2="1330.32" stroke="#444" stroke-width="1.36"/>
<text transform="translate(1089.37,1336.8) scale(0.99,1)" font-size="17.6" fill="#1d1d1d" text-anchor="end">1</text>
<line x1="1094.51" x2="1100.58" y1="1389.37" y2="1389.37" stroke="#444" stroke-width="1.36"/>
<text transform="translate(1089.37,1395.85) scale(0.99,1)" font-size="17.6" fill="#1d1d1d" text-anchor="end">0,5</text>
<line x1="1094.51" x2="1100.58" y1="1448.22" y2="1448.22" stroke="#444" stroke-width="1.36"/>
<text transform="translate(1089.37,1454.69) scale(0.99,1)" font-size="17.6" fill="#1d1d1d" text-anchor="end">0</text>
<text transform="translate(1053.46,1299.54) rotate(-90)" font-size="16.54" fill="#1d1d1d" text-anchor="middle" textLength="183.22" lengthAdjust="spacingAndGlyphs">Normalized Frequency</text>
<path d="M1103.3 1448.01 L1103.3 1447.38 H1104.61 L1104.61 1446.3 H1105.92 L1105.92 1447.38 H1107.23 L1107.23 1447.38 H1108.53 L1108.53 1447.38 H1109.84 L1109.84 1447.38 H1111.15 L1111.15 1447.38 H1112.46 L1112.46 1447.38 H1113.77 L1113.77 1447.38 H1115.08 L1115.08 1447.38 H1116.39 L1116.39 1447.38 H1117.7 L1117.7 1447.38 H1119 L1119 1447.38 H1120.31 L1120.31 1447.38 H1121.62 L1121.62 1447.38 H1122.93 L1122.93 1446.95 H1124.24 L1124.24 1447.38 H1125.55 L1125.55 1447.38 H1126.86 L1126.86 1447.31 H1128.17 L1128.17 1445.38 H1129.47 L1129.47 1445.39 H1130.78 L1130.78 1446.07 H1132.09 L1132.09 1446.47 H1133.4 L1133.4 1447.38 H1134.71 L1134.71 1447.38 H1136.02 L1136.02 1447.38 H1137.33 L1137.33 1447.38 H1138.64 L1138.64 1447.38 H1139.94 L1139.94 1447.28 H1141.25 L1141.25 1447.38 H1142.56 L1142.56 1447.38 H1143.87 L1143.87 1447.38 H1145.18 L1145.18 1447.08 H1146.49 L1146.49 1447.38 H1147.8 L1147.8 1447.38 H1149.11 L1149.11 1446.34 H1150.41 L1150.41 1447.29 H1151.72 L1151.72 1445.56 H1153.03 L1153.03 1446.12 H1154.34 L1154.34 1445.43 H1155.65 L1155.65 1447.08 H1156.96 L1156.96 1446.72 H1158.27 L1158.27 1447.21 H1159.58 L1159.58 1445.64 H1160.88 L1160.88 1447.14 H1162.19 L1162.19 1447.37 H1163.5 L1163.5 1447.2 H1164.81 L1164.81 1447.38 H1166.12 L1166.12 1447.38 H1167.43 L1167.43 1447.38 H1168.74 L1168.74 1447.38 H1170.05 L1170.05 1447.38 H1171.36 L1171.36 1447.38 H1172.66 L1172.66 1447.38 H1173.97 L1173.97 1446.87 H1175.28 L1175.28 1447.38 H1176.59 L1176.59 1447.34 H1177.9 L1177.9 1445.44 H1179.21 L1179.21 1446.6 H1180.52 L1180.52 1444.7 H1181.83 L1181.83 1445.72 H1183.13 L1183.13 1444.58 H1184.44 L1184.44 1443.52 H1185.75 L1185.75 1445.85 H1187.06 L1187.06 1443.36 H1188.37 L1188.37 1443.6 H1189.68 L1189.68 1444.53 H1190.99 L1190.99 1443.92 H1192.29 L1192.29 1444.76 H1193.6 L1193.6 1444.71 H1194.91 L1194.91 1445.05 H1196.22 L1196.22 1444.98 H1197.53 L1197.53 1444.27 H1198.84 L1198.84 1443.91 H1200.15 L1200.15 1444.96 H1201.46 L1201.46 1443.93 H1202.76 L1202.76 1443.52 H1204.07 L1204.07 1443.77 H1205.38 L1205.38 1440.45 H1206.69 L1206.69 1440.28 H1208 L1208 1440.16 H1209.31 L1209.31 1437.9 H1210.62 L1210.62 1439.02 H1211.93 L1211.93 1437.3 H1213.23 L1213.23 1434.94 H1214.54 L1214.54 1432.29 H1215.85 L1215.85 1432.4 H1217.16 L1217.16 1427.51 H1218.47 L1218.47 1427.87 H1219.78 L1219.78 1424.27 H1221.09 L1221.09 1420.86 H1222.4 L1222.4 1415.87 H1223.7 L1223.7 1410.24 H1225.01 L1225.01 1404.83 H1226.32 L1226.32 1399.35 H1227.63 L1227.63 1388.74 H1228.94 L1228.94 1385.25 H1230.25 L1230.25 1373.89 H1231.56 L1231.56 1359.74 H1232.87 L1232.87 1351.88 H1234.17 L1234.17 1335.06 H1235.48 L1235.48 1320.05 H1236.79 L1236.79 1308.51 H1238.1 L1238.1 1297.08 H1239.41 L1239.41 1280.37 H1240.72 L1240.72 1271.52 H1242.03 L1242.03 1257.25 H1243.34 L1243.34 1243.18 H1244.64 L1244.64 1233.84 H1245.95 L1245.95 1228.7 H1247.26 L1247.26 1228.49 H1248.57 L1248.57 1225.99 H1249.88 L1249.88 1223.95 H1251.19 L1251.19 1216.88 H1252.5 L1252.5 1211.35 H1253.81 L1253.81 1204.08 H1255.12 L1255.12 1194.79 H1256.42 L1256.42 1202.85 H1257.73 L1257.73 1215.75 H1259.04 L1259.04 1231.98 H1260.35 L1260.35 1239.43 H1261.66 L1261.66 1248.06 H1262.97 L1262.97 1256.74 H1264.28 L1264.28 1274.56 H1265.59 L1265.59 1286.39 H1266.89 L1266.89 1303.7 H1268.2 L1268.2 1316.4 H1269.51 L1269.51 1333.79 H1270.82 L1270.82 1344.2 H1272.13 L1272.13 1350.92 H1273.44 L1273.44 1356.99 H1274.75 L1274.75 1370.3 H1276.05 L1276.05 1378.12 H1277.36 L1277.36 1390.47 H1278.67 L1278.67 1396.4 H1279.98 L1279.98 1403.52 H1281.29 L1281.29 1406.65 H1282.6 L1282.6 1412.65 H1283.91 L1283.91 1416.9 H1285.22 L1285.22 1420.05 H1286.52 L1286.52 1427.9 H1287.83 L1287.83 1430.14 H1289.14 L1289.14 1430.31 H1290.45 L1290.45 1433.13 H1291.76 L1291.76 1433.67 H1293.07 L1293.07 1437.8 H1294.38 L1294.38 1437.69 H1295.69 L1295.69 1436.86 H1296.99 L1296.99 1439.13 H1298.3 L1298.3 1438.3 H1299.61 L1299.61 1439.57 H1300.92 L1300.92 1440.42 H1302.23 L1302.23 1439.07 H1303.54 L1303.54 1441.01 H1304.85 L1304.85 1442.75 H1306.16 L1306.16 1441.23 H1307.46 L1307.46 1441.71 H1308.77 L1308.77 1443.27 H1310.08 L1310.08 1441.98 H1311.39 L1311.39 1444.33 H1312.7 L1312.7 1444.51 H1314.01 L1314.01 1445.03 H1315.32 L1315.32 1444.76 H1316.63 L1316.63 1444.04 H1317.93 L1317.93 1443.59 H1319.24 L1319.24 1443.61 H1320.55 L1320.55 1443.66 H1321.86 L1321.86 1444.34 H1323.17 L1323.17 1441.95 H1324.48 L1324.48 1442.69 H1325.79 L1325.79 1442.47 H1327.1 L1327.1 1441.92 H1328.4 L1328.4 1441.78 H1329.71 L1329.71 1443.58 H1331.02 L1331.02 1443.32 H1332.33 L1332.33 1443.93 H1333.64 L1333.64 1443.18 H1334.95 L1334.95 1444.2 H1336.26 L1336.26 1443.77 H1337.57 L1337.57 1444.14 H1338.88 L1338.88 1444.44 H1340.18 L1340.18 1446.06 H1341.49 L1341.49 1446.77 H1342.8 L1342.8 1446.15 H1344.11 L1344.11 1446.7 H1345.42 L1345.42 1444.79 H1346.73 L1346.73 1445.78 H1348.04 L1348.04 1444.58 H1349.35 L1349.35 1445.34 H1350.65 L1350.65 1444.37 H1351.96 L1351.96 1444.16 H1353.27 L1353.27 1445.62 H1354.58 L1354.58 1444.39 H1355.89 L1355.89 1443.41 H1357.2 L1357.2 1443.96 H1358.51 L1358.51 1443.42 H1359.82 L1359.82 1444.84 H1361.12 L1361.12 1443.97 H1362.43 L1362.43 1445.34 H1363.74 L1363.74 1444.94 H1365.05 L1365.05 1445.34 H1366.36 L1366.36 1445.45 H1367.67 L1367.67 1445.57 H1368.98 L1368.98 1444.31 H1370.28 L1370.28 1446.25 H1371.59 L1371.59 1445.75 H1372.9 L1372.9 1444.58 H1374.21 L1374.21 1445.08 H1375.52 L1375.52 1445.97 H1376.83 L1376.83 1444.84 H1378.14 L1378.14 1444.2 H1379.45 L1379.45 1443.76 H1380.75 L1380.75 1442.19 H1382.06 L1382.06 1443.01 H1383.37 L1383.37 1442.61 H1384.68 L1384.68 1443.02 H1385.99 L1385.99 1442.22 H1387.3 L1387.3 1441.69 H1388.61 L1388.61 1443.68 H1389.92 L1389.92 1442.28 H1391.22 L1391.22 1442.47 H1392.53 L1392.53 1443.3 H1393.84 L1393.84 1444.92 H1395.15 L1395.15 1444.52 H1396.46 L1396.46 1443.24 H1397.77 L1397.77 1443.24 H1399.08 L1399.08 1444.35 H1400.39 L1400.39 1443.12 H1401.69 L1401.69 1443.41 H1403 L1403 1442.87 H1404.31 L1404.31 1444.69 H1405.62 L1405.62 1444.87 H1406.93 L1406.93 1444.93 H1408.24 L1408.24 1444.48 H1409.55 L1409.55 1443.01 H1410.86 L1410.86 1443.82 H1412.16 L1412.16 1445.52 H1413.47 L1413.47 1443.85 H1414.78 L1414.78 1445.35 H1416.09 L1416.09 1446.35 H1417.4 L1417.4 1445.29 H1418.71 L1418.71 1445.91 H1420.02 L1420.02 1447.08 H1421.33 L1421.33 1447.38 H1422.63 L1422.63 1446.77 H1423.94 L1423.94 1447.38 H1425.25 L1425.25 1447.38 H1426.56 L1426.56 1447.38 H1427.87 L1427.87 1447.38 H1429.18 L1429.18 1447.38 H1430.49 L1430.49 1447.38 H1431.8 L1431.8 1447.38 H1433.11 L1433.11 1447.38 H1434.41 L1434.41 1447.38 H1435.72 L1435.72 1447.38 H1437.03 L1437.03 1447.38 H1438.34 L1438.34 1446.83 H1439.65 L1439.65 1447.38 H1440.96 L1440.96 1447.38 H1442.27 L1442.27 1447.38 H1443.57 L1443.57 1446.83 H1444.88 L1444.88 1447.38 H1446.19 L1446.19 1446.99 H1447.5 L1447.5 1447.38 H1448.81 L1448.81 1447.38 H1450.12 L1450.12 1447.16 H1451.43 L1451.43 1447.38 H1452.74 L1452.74 1447.38 H1454.05 L1454.05 1447.38 H1455.35 L1454.36 1448.01 Z" fill="#ffff00"/>
<rect x="1103.3" y="1446.64" width="351.06" height="2.2" fill="#f4f000"/>
<line x1="1213.03" x2="1311.44" y1="1368.02" y2="1368.02" stroke="#e88a10" stroke-width="1.78" opacity="0.92"/>
<text x="1223.29" y="1179.24" font-size="16.32" class="b" fill="#e8900f" textLength="70.78" lengthAdjust="spacingAndGlyphs">live cells</text>
<text transform="translate(1138.48,1477.74) scale(0.99,1)" font-size="17.6" fill="#1d1d1d" text-anchor="middle">-100</text>
<text transform="translate(1166.96,1477.74) scale(0.99,1)" font-size="17.6" fill="#1d1d1d" text-anchor="middle">0</text>
<text transform="translate(1192.82,1477.74) scale(0.99,1)" font-size="17.6" fill="#1d1d1d" text-anchor="middle">100</text>
<text transform="translate(1252.92,1477.74) scale(0.99,1)" font-size="17.6" fill="#1d1d1d" text-anchor="middle">1e3</text>
<text transform="translate(1311.86,1477.74) scale(0.99,1)" font-size="17.6" fill="#1d1d1d" text-anchor="middle">1e4</text>
<text transform="translate(1371.33,1477.74) scale(0.99,1)" font-size="17.6" fill="#1d1d1d" text-anchor="middle">1e5</text>
<text transform="translate(1430.8,1477.74) scale(0.99,1)" font-size="17.6" fill="#1d1d1d" text-anchor="middle">1e6</text>
<path d="M1140.89 1451.98 v5.23 M1166.96 1451.98 v5.23 M1192.82 1451.98 v5.23 M1252.92 1451.98 v5.23 M1311.86 1451.98 v5.23 M1371.33 1451.98 v5.23 M1430.8 1451.98 v5.23 M1210.91 1451.98 v2.72 M1221.49 1451.98 v2.72 M1229 1451.98 v2.72 M1234.83 1451.98 v2.72 M1239.58 1451.98 v2.72 M1243.61 1451.98 v2.72 M1247.09 1451.98 v2.72 M1250.17 1451.98 v2.72 M1270.66 1451.98 v2.72 M1281.04 1451.98 v2.72 M1288.41 1451.98 v2.72 M1294.12 1451.98 v2.72 M1298.79 1451.98 v2.72 M1302.73 1451.98 v2.72 M1306.15 1451.98 v2.72 M1309.17 1451.98 v2.72 M1329.76 1451.98 v2.72 M1340.24 1451.98 v2.72 M1347.67 1451.98 v2.72 M1353.43 1451.98 v2.72 M1358.14 1451.98 v2.72 M1362.12 1451.98 v2.72 M1365.57 1451.98 v2.72 M1368.61 1451.98 v2.72 M1389.23 1451.98 v2.72 M1399.71 1451.98 v2.72 M1407.14 1451.98 v2.72 M1412.9 1451.98 v2.72 M1417.61 1451.98 v2.72 M1421.59 1451.98 v2.72 M1425.04 1451.98 v2.72 M1428.08 1451.98 v2.72 M1448.7 1451.98 v2.72 M1105.39 1451.98 v2.72 M1110 1451.98 v2.72 M1115.86 1451.98 v2.72 M1124.24 1451.98 v2.72" stroke="#3a3a3a" stroke-width="1.36" fill="none"/>
<text x="1272.08" y="1502.87" font-size="17.6" fill="#1d1d1d" text-anchor="middle" textLength="134.02" lengthAdjust="spacingAndGlyphs">Intensity_MC_PI</text>
</g>
<g>
<text x="19.8" y="1538.9" font-size="22.9" fill="#111" textLength="163" lengthAdjust="spacingAndGlyphs">Intensity_MC_PI</text>
<rect x="15" y="1578.15" width="459.2" height="27.65" fill="#e1e1e1"/>
<rect x="15" y="1633.45" width="459.2" height="27.65" fill="#e1e1e1"/>
<path d="M14.2 1550.5 H475 M14.2 1578.15 H475 M14.2 1605.8 H475 M14.2 1633.45 H475 M14.2 1661.1 H475 M15 1549.7 V1661.9 M309.8 1549.7 V1661.9 M384 1549.7 V1661.9 M474.2 1549.7 V1661.9" stroke="#ffffff" stroke-width="3.8" fill="none"/>
<path d="M14.2 1550.5 H475 M14.2 1578.15 H475 M14.2 1605.8 H475 M14.2 1633.45 H475 M14.2 1661.1 H475 M15 1549.7 V1661.9 M309.8 1549.7 V1661.9 M384 1549.7 V1661.9 M474.2 1549.7 V1661.9" stroke="#9a9a9a" stroke-width="2.3" fill="none"/>
<path d="M14.2 1550.5 H475 M14.2 1578.15 H475 M14.2 1605.8 H475 M14.2 1633.45 H475 M14.2 1661.1 H475 M15 1549.7 V1661.9 M309.8 1549.7 V1661.9 M384 1549.7 V1661.9 M474.2 1549.7 V1661.9" stroke="#484848" stroke-width="1.1" fill="none"/>
<text x="41.2" y="1569.3" font-size="18.44" class="b" fill="#111" textLength="95" lengthAdjust="spacingAndGlyphs">Population</text>
<text x="318" y="1569.3" font-size="18.44" class="b" fill="#111" textLength="54" lengthAdjust="spacingAndGlyphs">Count</text>
<text x="394.3" y="1569.3" font-size="18.44" class="b" fill="#111" textLength="69" lengthAdjust="spacingAndGlyphs">%Gated</text>
<text x="45.5" y="1597.75" font-size="18.44" class="b" fill="#111" textLength="235" lengthAdjust="spacingAndGlyphs">single cells &amp; time &amp; focus</text>
<text x="323.2" y="1597.75" font-size="19.29" class="r" fill="#111" textLength="49.5" lengthAdjust="spacingAndGlyphs">20531</text>
<text x="400.2" y="1597.75" font-size="19.29" class="r" fill="#111" textLength="29.2" lengthAdjust="spacingAndGlyphs">100</text>
<text x="45.5" y="1624.8" font-size="18.44" class="b" fill="#111" textLength="222" lengthAdjust="spacingAndGlyphs">live cells &amp; single cells ...</text>
<text x="324.3" y="1624.8" font-size="19.29" class="r" fill="#111" textLength="49" lengthAdjust="spacingAndGlyphs">19450</text>
<text x="399.4" y="1624.8" font-size="19.29" class="r" fill="#111" textLength="34.8" lengthAdjust="spacingAndGlyphs">94,7</text>
<text x="45.5" y="1651.65" font-size="18.44" class="b" fill="#111" textLength="235" lengthAdjust="spacingAndGlyphs">dead cells &amp; single cells ...</text>
<text x="324" y="1651.65" font-size="19.29" class="r" fill="#111" textLength="29.6" lengthAdjust="spacingAndGlyphs">753</text>
<text x="399.4" y="1651.65" font-size="19.29" class="r" fill="#111" textLength="34.8" lengthAdjust="spacingAndGlyphs">3,67</text>
</g>
<g>
<text x="507.4" y="1557.5" font-size="23.22" fill="#111" textLength="172" lengthAdjust="spacingAndGlyphs">Intensity_MC_PI</text>
<rect x="502.8" y="1599.5" width="483.2" height="28.9" fill="#e1e1e1"/>
<path d="M502 1570.6 H986.8 M502 1599.5 H986.8 M502 1628.4 H986.8 M502 1657.3 H986.8 M502.8 1569.8 V1658.1 M811.6 1569.8 V1658.1 M891.1 1569.8 V1658.1 M986 1569.8 V1658.1" stroke="#ffffff" stroke-width="3.98" fill="none"/>
<path d="M502 1570.6 H986.8 M502 1599.5 H986.8 M502 1628.4 H986.8 M502 1657.3 H986.8 M502.8 1569.8 V1658.1 M811.6 1569.8 V1658.1 M891.1 1569.8 V1658.1 M986 1569.8 V1658.1" stroke="#9a9a9a" stroke-width="2.41" fill="none"/>
<path d="M502 1570.6 H986.8 M502 1599.5 H986.8 M502 1628.4 H986.8 M502 1657.3 H986.8 M502.8 1569.8 V1658.1 M811.6 1569.8 V1658.1 M891.1 1569.8 V1658.1 M986 1569.8 V1658.1" stroke="#484848" stroke-width="1.15" fill="none"/>
<text x="530.7" y="1590" font-size="18.7" class="b" fill="#111" textLength="99.5" lengthAdjust="spacingAndGlyphs">Population</text>
<text x="821.9" y="1590" font-size="18.7" class="b" fill="#111" textLength="56.5" lengthAdjust="spacingAndGlyphs">Count</text>
<text x="902.1" y="1590" font-size="18.7" class="b" fill="#111" textLength="72" lengthAdjust="spacingAndGlyphs">%Gated</text>
<text x="534.8" y="1618.9" font-size="18.7" class="b" fill="#111" textLength="247.4" lengthAdjust="spacingAndGlyphs">single cells &amp; time &amp; focus</text>
<text x="827.7" y="1618.9" font-size="19.56" class="r" fill="#111" textLength="52.4" lengthAdjust="spacingAndGlyphs">20496</text>
<text x="908.2" y="1618.9" font-size="19.56" class="r" fill="#111" textLength="30.6" lengthAdjust="spacingAndGlyphs">100</text>
<text x="534.8" y="1647.4" font-size="18.7" class="b" fill="#111" textLength="233" lengthAdjust="spacingAndGlyphs">live cells &amp; single cells ...</text>
<text x="828.8" y="1647.4" font-size="19.56" class="r" fill="#111" textLength="51.3" lengthAdjust="spacingAndGlyphs">18503</text>
<text x="907.5" y="1647.4" font-size="19.56" class="r" fill="#111" textLength="36.4" lengthAdjust="spacingAndGlyphs">90,3</text>
</g>
<g>
<text x="1037.8" y="1557.5" font-size="23.22" fill="#111" textLength="172" lengthAdjust="spacingAndGlyphs">Intensity_MC_PI</text>
<rect x="1033.2" y="1599.5" width="483.2" height="28.9" fill="#e1e1e1"/>
<path d="M1032.4 1570.6 H1517.2 M1032.4 1599.5 H1517.2 M1032.4 1628.4 H1517.2 M1032.4 1657.3 H1517.2 M1033.2 1569.8 V1658.1 M1342 1569.8 V1658.1 M1421.5 1569.8 V1658.1 M1516.4 1569.8 V1658.1" stroke="#ffffff" stroke-width="3.98" fill="none"/>
<path d="M1032.4 1570.6 H1517.2 M1032.4 1599.5 H1517.2 M1032.4 1628.4 H1517.2 M1032.4 1657.3 H1517.2 M1033.2 1569.8 V1658.1 M1342 1569.8 V1658.1 M1421.5 1569.8 V1658.1 M1516.4 1569.8 V1658.1" stroke="#9a9a9a" stroke-width="2.41" fill="none"/>
<path d="M1032.4 1570.6 H1517.2 M1032.4 1599.5 H1517.2 M1032.4 1628.4 H1517.2 M1032.4 1657.3 H1517.2 M1033.2 1569.8 V1658.1 M1342 1569.8 V1658.1 M1421.5 1569.8 V1658.1 M1516.4 1569.8 V1658.1" stroke="#484848" stroke-width="1.15" fill="none"/>
<text x="1061.1" y="1590" font-size="18.7" class="b" fill="#111" textLength="99.5" lengthAdjust="spacingAndGlyphs">Population</text>
<text x="1352.3" y="1590" font-size="18.7" class="b" fill="#111" textLength="56.5" lengthAdjust="spacingAndGlyphs">Count</text>
<text x="1432.5" y="1590" font-size="18.7" class="b" fill="#111" textLength="72" lengthAdjust="spacingAndGlyphs">%Gated</text>
<text x="1065.2" y="1618.9" font-size="18.7" class="b" fill="#111" textLength="247.4" lengthAdjust="spacingAndGlyphs">single cells &amp; time &amp; focus</text>
<text x="1358.1" y="1618.9" font-size="19.56" class="r" fill="#111" textLength="52.4" lengthAdjust="spacingAndGlyphs">19781</text>
<text x="1438.6" y="1618.9" font-size="19.56" class="r" fill="#111" textLength="30.6" lengthAdjust="spacingAndGlyphs">100</text>
<text x="1065.2" y="1647.4" font-size="18.7" class="b" fill="#111" textLength="233" lengthAdjust="spacingAndGlyphs">live cells &amp; single cells ...</text>
<text x="1359.2" y="1647.4" font-size="19.56" class="r" fill="#111" textLength="51.3" lengthAdjust="spacingAndGlyphs">18991</text>
<text x="1437.9" y="1647.4" font-size="19.56" class="r" fill="#111" textLength="20.6" lengthAdjust="spacingAndGlyphs">96</text>
</g>
<g id="panelE">
<text x="60.5" y="1793" font-size="61.5" class="r" stroke="#000" stroke-width="0.9" textLength="28" lengthAdjust="spacingAndGlyphs">E</text>
<rect x="126.5" y="1739.5" width="1385.8" height="296.9" fill="#1e1e1e"/>
<text x="240.8" y="1797.4" font-size="57.5" fill="#fff" text-anchor="middle" textLength="69" lengthAdjust="spacingAndGlyphs">BF</text>
<text x="468" y="1797.4" font-size="57.5" fill="#fff" text-anchor="middle" textLength="49.5" lengthAdjust="spacingAndGlyphs">PI</text>
<text x="705" y="1797.4" font-size="57.5" fill="#fff" text-anchor="middle" textLength="69" lengthAdjust="spacingAndGlyphs">BF</text>
<text x="933.5" y="1797.4" font-size="57.5" fill="#fff" text-anchor="middle" textLength="49.5" lengthAdjust="spacingAndGlyphs">PI</text>
<text x="1170.5" y="1797.4" font-size="57.5" fill="#fff" text-anchor="middle" textLength="69" lengthAdjust="spacingAndGlyphs">BF</text>
<text x="1397" y="1797.4" font-size="57.5" fill="#fff" text-anchor="middle" textLength="49.5" lengthAdjust="spacingAndGlyphs">PI</text>
<rect x="127.6" y="1822" width="227.4" height="184.2" fill="#cbcbcb"/>
<rect x="128.9" y="1823.3" width="224.8" height="181.6" fill="#a8a8a8" filter="url(#grain)"/>
<rect x="355.8" y="1822" width="226.8" height="184.2" fill="#000"/>
<rect x="592" y="1822" width="227" height="214.4" fill="#cbcbcb"/>
<rect x="593.3" y="1823.3" width="224.4" height="211.8" fill="#a8a8a8" filter="url(#grain)"/>
<rect x="819" y="1822" width="228" height="214.4" fill="#000"/>
<rect x="1056.6" y="1822" width="227.6" height="201.4" fill="#cbcbcb"/>
<rect x="1057.9" y="1823.3" width="225" height="198.8" fill="#a8a8a8" filter="url(#grain)"/>
<rect x="1284.2" y="1822" width="228.1" height="201.4" fill="#000"/>
<g filter="url(#b14)"><ellipse cx="230.1" cy="1924.8" rx="34.4" ry="36.4" fill="none" stroke="#bdbdbd" stroke-width="3.6"/><ellipse cx="230.1" cy="1924.8" rx="30" ry="31.8" fill="url(#ge1)"/></g><g opacity="0.42"><ellipse cx="230.1" cy="1924.8" rx="28" ry="30" fill="#000" filter="url(#mot)"/></g><g filter="url(#b14)"><ellipse cx="224.6" cy="1924.6" rx="3.2" ry="3.6" fill="#626262"/><ellipse cx="248.6" cy="1922.7" rx="3" ry="3" fill="#b2b2b2"/><ellipse cx="235.6" cy="1942" rx="4" ry="4" fill="#acacac"/><ellipse cx="222" cy="1905" rx="4" ry="3" fill="#747474"/><ellipse cx="243" cy="1907" rx="4" ry="5" fill="#727272"/></g>
<g filter="url(#b17)"><ellipse cx="688.2" cy="1922.8" rx="35.6" ry="40.6" fill="none" stroke="#f2f2f2" stroke-width="6"/><ellipse cx="687.3" cy="1923" rx="30.2" ry="34.2" fill="url(#ge2)"/></g><g opacity="0.6"><ellipse cx="687.3" cy="1923" rx="25" ry="29" fill="#000" filter="url(#mot)"/></g><g filter="url(#b17)"><ellipse cx="674.4" cy="1915.4" rx="3" ry="6" fill="#2e2e2e" transform="rotate(-10 674.4 1915.4)"/><ellipse cx="708.6" cy="1924.6" rx="4" ry="5" fill="#2a2a2a"/><ellipse cx="684.6" cy="1951.3" rx="8" ry="3.5" fill="#303030"/><ellipse cx="683" cy="1915" rx="3" ry="3" fill="#b8b8b8"/><ellipse cx="696" cy="1938" rx="4" ry="5" fill="#8c8c8c"/><ellipse cx="688" cy="1932" rx="3" ry="7" fill="#4a4a4a" transform="rotate(10 688 1932)"/><ellipse cx="680" cy="1940" rx="4" ry="7" fill="#888" transform="rotate(15 680 1940)"/></g>
<g filter="url(#b15)"><ellipse cx="1163.7" cy="1922.3" rx="29.4" ry="32.4" fill="none" stroke="#ececec" stroke-width="4.8"/><ellipse cx="1163.9" cy="1921.6" rx="24" ry="26.6" fill="url(#ge3)"/></g><g opacity="0.3"><ellipse cx="1163.9" cy="1921.6" rx="20" ry="22" fill="#000" filter="url(#mot)"/></g><g filter="url(#b15)"><ellipse cx="1170.5" cy="1926" rx="3.5" ry="3.5" fill="#8e8e8e"/><ellipse cx="1164" cy="1907" rx="3" ry="3" fill="#8a8a8a"/><ellipse cx="1144" cy="1922" rx="2.5" ry="6" fill="#3e3e3e"/></g>
<text x="134.6" y="1866.6" font-size="43.5" fill="#0a0a0a" textLength="90.5" lengthAdjust="spacingAndGlyphs">3504</text>
<text x="599.4" y="1866.6" font-size="43.5" fill="#0a0a0a" textLength="90.5" lengthAdjust="spacingAndGlyphs">3578</text>
<text x="1063.8" y="1866.6" font-size="43.5" fill="#0a0a0a" textLength="90.5" lengthAdjust="spacingAndGlyphs">3590</text>
<rect x="149.5" y="1970.6" width="15.4" height="12.4" fill="#ffffff"/>
<rect x="164.8" y="1970.6" width="15.4" height="12.4" fill="#909090"/>
<rect x="180.1" y="1970.6" width="15.4" height="12.4" fill="#ffffff"/>
<rect x="195.4" y="1970.6" width="15.4" height="12.4" fill="#909090"/>
<rect x="210.7" y="1970.6" width="15.4" height="12.4" fill="#ffffff"/>
<text x="232.5" y="1989.3" font-size="44.6" fill="#fff" textLength="115.5" lengthAdjust="spacingAndGlyphs">20 µm</text>
</g>
<g id="panelF">
<text x="60.5" y="2177" font-size="61.5" class="r" stroke="#000" stroke-width="0.9" textLength="24.5" lengthAdjust="spacingAndGlyphs">F</text>
<rect x="126.5" y="2123" width="1385.8" height="303.6" fill="#1e1e1e"/>
<text x="240.8" y="2179.2" font-size="57.5" fill="#fff" text-anchor="middle" textLength="69" lengthAdjust="spacingAndGlyphs">BF</text>
<text x="468" y="2179.2" font-size="57.5" fill="#fff" text-anchor="middle" textLength="49.5" lengthAdjust="spacingAndGlyphs">PI</text>
<text x="705" y="2179.2" font-size="57.5" fill="#fff" text-anchor="middle" textLength="69" lengthAdjust="spacingAndGlyphs">BF</text>
<text x="933.5" y="2179.2" font-size="57.5" fill="#fff" text-anchor="middle" textLength="49.5" lengthAdjust="spacingAndGlyphs">PI</text>
<text x="1170.5" y="2179.2" font-size="57.5" fill="#fff" text-anchor="middle" textLength="69" lengthAdjust="spacingAndGlyphs">BF</text>
<text x="1397" y="2179.2" font-size="57.5" fill="#fff" text-anchor="middle" textLength="49.5" lengthAdjust="spacingAndGlyphs">PI</text>
<rect x="127.6" y="2203.6" width="227.4" height="210.3" fill="#cbcbcb"/>
<rect x="128.9" y="2204.9" width="224.8" height="207.7" fill="#a8a8a8" filter="url(#grain)"/>
<rect x="355.8" y="2203.6" width="226.8" height="210.3" fill="#000"/>
<rect x="592" y="2203.6" width="227" height="223" fill="#cbcbcb"/>
<rect x="593.3" y="2204.9" width="224.4" height="220.4" fill="#a8a8a8" filter="url(#grain)"/>
<rect x="819" y="2203.6" width="228" height="223" fill="#000"/>
<rect x="1056.6" y="2203.6" width="227.6" height="213.9" fill="#cbcbcb"/>
<rect x="1057.9" y="2204.9" width="225" height="211.3" fill="#a8a8a8" filter="url(#grain)"/>
<rect x="1284.2" y="2203.6" width="228.1" height="213.9" fill="#000"/>
<g filter="url(#b15)"><ellipse cx="220.6" cy="2298" rx="37.5" ry="39.8" fill="none" stroke="#bebebe" stroke-width="2.8"/><ellipse cx="220.6" cy="2298" rx="32.5" ry="34.5" fill="none" stroke="#9a9a9a" stroke-width="3.4"/><ellipse cx="222" cy="2297" rx="25.5" ry="27.5" fill="#9c9c9c" stroke="#767676" stroke-width="5.2"/><ellipse cx="216" cy="2300" rx="10.5" ry="13.5" fill="#c4c4c4" stroke="#808080" stroke-width="3" transform="rotate(-30 216 2300)"/><ellipse cx="212.7" cy="2301.4" rx="4.8" ry="8.2" fill="#161616" transform="rotate(-30 212.7 2301.4)"/><ellipse cx="224.7" cy="2284.8" rx="3.6" ry="5.2" fill="#2e2e2e" transform="rotate(10 224.7 2284.8)"/><ellipse cx="245" cy="2283.9" rx="3.6" ry="3.2" fill="#5a5a5a"/><ellipse cx="246.5" cy="2297.5" rx="3" ry="2.6" fill="#666"/><ellipse cx="198" cy="2309.7" rx="4.2" ry="3.6" fill="#5c5c5c"/><ellipse cx="186.4" cy="2292.2" rx="2.6" ry="4" fill="#6c6c6c"/><ellipse cx="231" cy="2276" rx="3" ry="3" fill="#c4c4c4"/><ellipse cx="232" cy="2306" rx="3.2" ry="3.2" fill="#c8c8c8"/><ellipse cx="233" cy="2290" rx="3" ry="6" fill="#bdbdbd" transform="rotate(10 233 2290)"/><path d="M203 2322 Q222 2338 243 2314" fill="none" stroke="#808080" stroke-width="3.4"/><path d="M206 2272 Q222 2262 240 2272" fill="none" stroke="#8c8c8c" stroke-width="3"/></g>
<g filter="url(#b17)"><ellipse cx="709.6" cy="2308.6" rx="32.6" ry="34.6" fill="none" stroke="#c2c2c2" stroke-width="3.6"/><path d="M684 2326 Q708 2352 734 2326" fill="none" stroke="#dcdcdc" stroke-width="4"/><ellipse cx="708" cy="2311" rx="22" ry="27" fill="#a0a0a0" stroke="#8c8c8c" stroke-width="3"/><ellipse cx="704.6" cy="2299" rx="11" ry="8" fill="#4e4e4e" transform="rotate(-15 704.6 2299)"/><ellipse cx="697" cy="2312" rx="5.5" ry="13" fill="#5e5e5e" transform="rotate(12 697 2312)"/><ellipse cx="722" cy="2304" rx="4" ry="12" fill="#6e6e6e" transform="rotate(-25 722 2304)"/><ellipse cx="712.4" cy="2319" rx="5.6" ry="10.5" fill="#f4f4f4" transform="rotate(12 712.4 2319)"/><ellipse cx="695.6" cy="2324.6" rx="4.6" ry="5.2" fill="#151515"/><ellipse cx="710.1" cy="2283.2" rx="4" ry="3.8" fill="#636363"/><ellipse cx="729.5" cy="2310" rx="3" ry="3.2" fill="#dadada"/><ellipse cx="706" cy="2321" rx="2.2" ry="2.2" fill="#a8a8a8"/></g>
<g filter="url(#b19)"><ellipse cx="1147" cy="2315" rx="36.5" ry="39.5" fill="none" stroke="#dadada" stroke-width="4.6"/><ellipse cx="1147.3" cy="2315.5" rx="27.2" ry="30.6" fill="#9c9c9c" stroke="#333333" stroke-width="7.2"/><ellipse cx="1148.3" cy="2308.6" rx="15.5" ry="15.5" fill="#ffffff"/><ellipse cx="1141" cy="2300" rx="8" ry="6" fill="#ffffff"/><ellipse cx="1139" cy="2335.8" rx="7" ry="6" fill="#f4f4f4"/><ellipse cx="1130" cy="2331" rx="5" ry="4" fill="#d0d0d0"/><ellipse cx="1126.1" cy="2317.3" rx="4.6" ry="4.6" fill="#0c0c0c"/><ellipse cx="1110.4" cy="2322" rx="3.2" ry="6.4" fill="#3a3a3a" transform="rotate(10 1110.4 2322)"/><ellipse cx="1184.2" cy="2328.4" rx="4" ry="8.4" fill="#3c3c3c" transform="rotate(22 1184.2 2328.4)"/><ellipse cx="1163" cy="2352.4" rx="4" ry="7.2" fill="#2c2c2c" transform="rotate(12 1163 2352.4)"/><ellipse cx="1111.4" cy="2310" rx="4.4" ry="5" fill="#ffffff"/><ellipse cx="1171.3" cy="2343.2" rx="5.4" ry="5" fill="#ffffff"/><ellipse cx="1164" cy="2280.4" rx="3.6" ry="3.6" fill="#f4f4f4"/><ellipse cx="1152" cy="2350" rx="5" ry="3" fill="#f0f0f0"/><ellipse cx="1110" cy="2363.5" rx="2.6" ry="2.6" fill="#7c7c7c"/></g>
<g filter="url(#b36)"><ellipse cx="452.9" cy="2300" rx="30" ry="36.5" fill="url(#pi1)" transform="rotate(12 452.9 2300)"/></g><g filter="url(#b30)"><ellipse cx="444.6" cy="2305.6" rx="4.5" ry="9" fill="#e08400" transform="rotate(-35 444.6 2305.6)"/><ellipse cx="455" cy="2288.5" rx="6" ry="5" fill="#b86a00"/><ellipse cx="470" cy="2276" rx="9" ry="8" fill="#3c2000"/></g>
<g filter="url(#b32)"><ellipse cx="937.3" cy="2317.5" rx="18.4" ry="23" fill="#ff8c00"/></g>
<g filter="url(#b32)"><ellipse cx="1376.9" cy="2310.5" rx="20.6" ry="21.6" fill="#ff8c00"/></g>
<text x="134.6" y="2248.2" font-size="43.5" fill="#0a0a0a" textLength="90.5" lengthAdjust="spacingAndGlyphs">3860</text>
<text x="599.4" y="2248.2" font-size="43.5" fill="#0a0a0a" textLength="90.5" lengthAdjust="spacingAndGlyphs">5078</text>
<text x="1063.8" y="2248.2" font-size="43.5" fill="#0a0a0a" textLength="90.5" lengthAdjust="spacingAndGlyphs">5266</text>
<rect x="149.5" y="2377.8" width="15.4" height="12.4" fill="#ffffff"/>
<rect x="164.8" y="2377.8" width="15.4" height="12.4" fill="#909090"/>
<rect x="180.1" y="2377.8" width="15.4" height="12.4" fill="#ffffff"/>
<rect x="195.4" y="2377.8" width="15.4" height="12.4" fill="#909090"/>
<rect x="210.7" y="2377.8" width="15.4" height="12.4" fill="#ffffff"/>
<text x="232.5" y="2397.4" font-size="44.6" fill="#fff" textLength="115.5" lengthAdjust="spacingAndGlyphs">20 µm</text>
</g>
</svg>
</body>
</html>
